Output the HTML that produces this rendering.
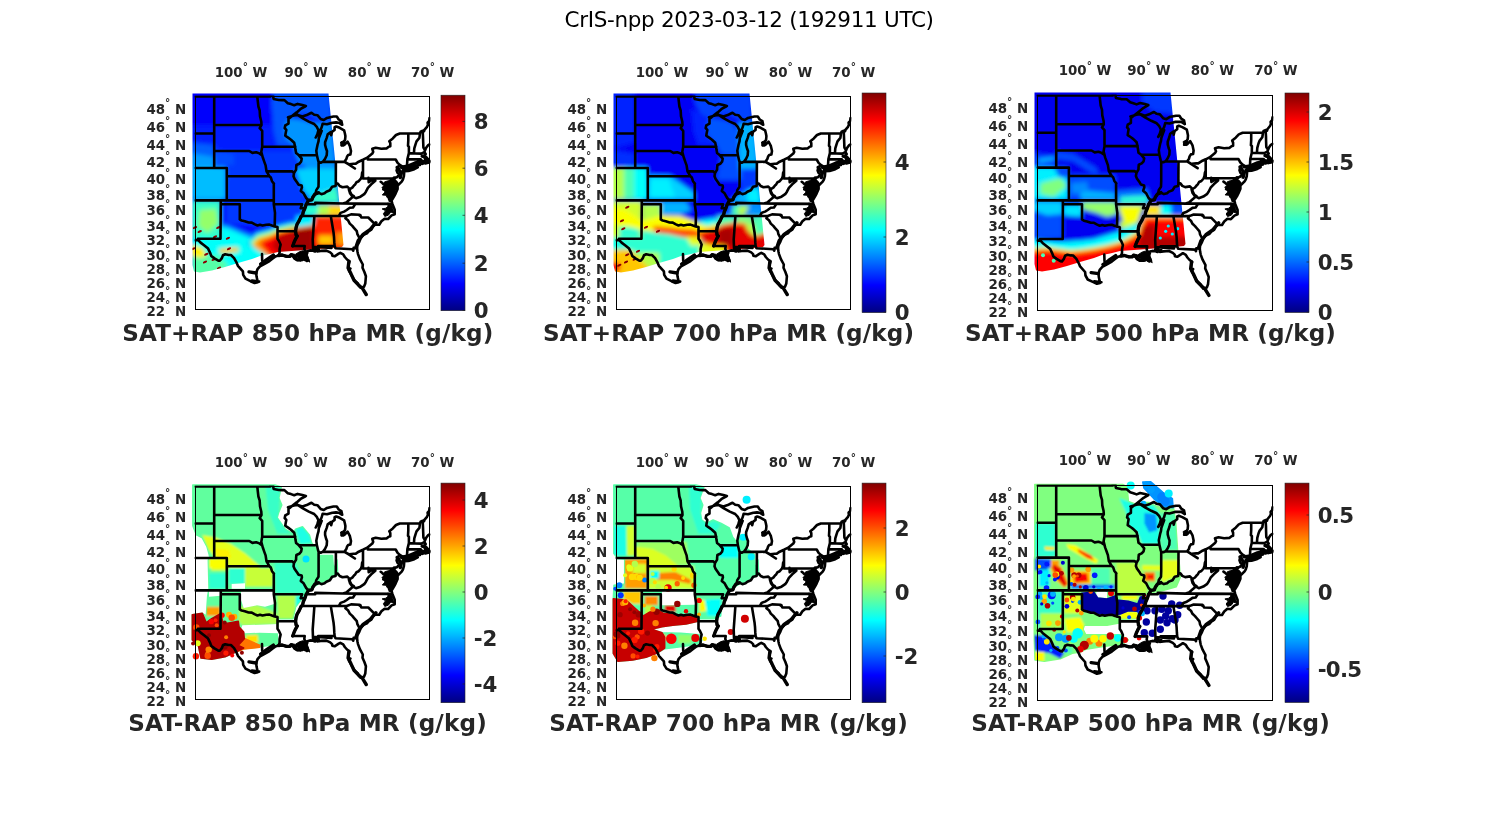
<!DOCTYPE html><html><head><meta charset="utf-8"><title>CrIS-npp</title><style>html,body{margin:0;padding:0;background:#fff}svg{display:block}text{font-family:"DejaVu Sans","Liberation Sans",sans-serif}.b{font-weight:bold;fill:#262626}</style></head><body>
<svg width="1500" height="825" viewBox="0 0 1500 825">
<rect width="1500" height="825" fill="#fff"/>
<linearGradient id="jet" x1="0" y1="0" x2="0" y2="1"><stop offset="0.000" stop-color="#800000"/><stop offset="0.031" stop-color="#9f0000"/><stop offset="0.062" stop-color="#bf0000"/><stop offset="0.094" stop-color="#df0000"/><stop offset="0.125" stop-color="#ff0000"/><stop offset="0.156" stop-color="#ff2000"/><stop offset="0.188" stop-color="#ff4000"/><stop offset="0.219" stop-color="#ff6000"/><stop offset="0.250" stop-color="#ff8000"/><stop offset="0.281" stop-color="#ff9f00"/><stop offset="0.312" stop-color="#ffbf00"/><stop offset="0.344" stop-color="#ffdf00"/><stop offset="0.375" stop-color="#ffff00"/><stop offset="0.406" stop-color="#dfff20"/><stop offset="0.438" stop-color="#bfff40"/><stop offset="0.469" stop-color="#9fff60"/><stop offset="0.500" stop-color="#80ff80"/><stop offset="0.531" stop-color="#60ff9f"/><stop offset="0.562" stop-color="#40ffbf"/><stop offset="0.594" stop-color="#20ffdf"/><stop offset="0.625" stop-color="#00ffff"/><stop offset="0.656" stop-color="#00dfff"/><stop offset="0.688" stop-color="#00bfff"/><stop offset="0.719" stop-color="#009fff"/><stop offset="0.750" stop-color="#0080ff"/><stop offset="0.781" stop-color="#0060ff"/><stop offset="0.812" stop-color="#0040ff"/><stop offset="0.844" stop-color="#0020ff"/><stop offset="0.875" stop-color="#0000ff"/><stop offset="0.906" stop-color="#0000df"/><stop offset="0.938" stop-color="#0000bf"/><stop offset="0.969" stop-color="#00009f"/><stop offset="1.000" stop-color="#000080"/></linearGradient>
<text x="564.5" y="27.2" font-size="21.5" textLength="369.5" lengthAdjust="spacing" fill="#000">CrIS-npp 2023-03-12 (192911 UTC)</text>
<g id="p1">
<filter id="bl0" filterUnits="userSpaceOnUse" x="145" y="46" width="260" height="280"><feGaussianBlur stdDeviation="2.2"/></filter>
<clipPath id="sw0"><path d="M192.5 93.5L328.5 93.5L343.5 245.0L342.0 247.0L332.0 248.0L318.0 249.0L305.0 250.0L292.0 251.0L278.0 252.0L268.0 254.5L260.0 256.0L252.0 259.0L238.0 263.0L225.0 267.0L212.0 270.5L200.0 272.5L194.0 271.5L192.5 265.0Z"/></clipPath>
<g clip-path="url(#sw0)">
<g filter="url(#bl0)">
<rect x="152.5" y="53.5" width="231.0" height="259.0" fill="#0000fc"/>
<path d="M189.6 125.3L297.9 125.3L300.2 180.6L189.6 180.6Z" fill="#001aff"/>
<path d="M214.4 150.7L294.4 150.7L299.1 180.6L214.4 180.6Z" fill="#0038ff"/>
<path d="M273.7 91.9L330.2 91.9L331.9 123.0L317.5 119.6L307.1 113.8L295.6 115.0L286.4 119.6L277.2 123.0L272.6 113.8L271.4 102.3Z" fill="#0057ff"/>
<path d="M272.6 113.8L286.4 119.6L284.1 131.1L286.4 139.1L293.9 145.5L277.2 145.5L273.7 131.1Z" fill="#0057ff"/>
<path d="M288.7 118.4L300.2 119.6L311.7 123.0L331.9 123.0L335.9 165.6L337.1 180.0L299.1 180.0L300.2 165.6L295.6 154.1L293.3 144.9L286.4 139.1L284.1 131.1L285.2 123.0Z" fill="#0094ff"/>
<path d="M190.8 142.6L214.4 144.9L214.4 166.8L190.8 166.8Z" fill="#0061ff"/>
<path d="M190.8 153.0L214.4 157.0L214.4 167.0L190.8 167.0Z" fill="#009eff"/>
<path d="M215.0 150.7L233.4 154.1L234.5 167.4L215.0 167.4Z" fill="#004dff"/>
<path d="M191.7 166.7L225.7 167.3L225.7 199.1L191.7 199.1Z" fill="#00bdff"/>
<path d="M226.3 164.7L305.0 164.7L305.0 223.3L275.7 227.3L226.3 223.3Z" fill="#0038ff"/>
<path d="M295.7 168.7L337.0 168.7L338.3 186.7L318.3 194.0L310.3 198.7L305.0 192.7L299.7 182.0Z" fill="#00d1ff"/>
<path d="M311.0 199.1L318.3 193.7L337.0 187.1L339.7 202.7L308.3 202.7Z" fill="#38ffc7"/>
<path d="M304.3 204.9L319.7 204.9L319.7 215.1L303.0 215.1Z" fill="#2effd1"/>
<path d="M318.3 204.9L330.3 204.9L330.3 215.1L318.3 215.1Z" fill="#b3ff4c"/>
<path d="M329.0 204.9L345.0 204.9L345.0 215.1L329.0 215.1Z" fill="#ffdb00"/>
<path d="M191.7 200.9L220.7 200.9L220.7 238.3L191.7 238.3Z" fill="#38ffc7"/>
<path d="M199.7 210.0L215.7 208.7L218.3 223.3L207.7 232.7L198.3 226.0Z" fill="#94ff6b"/>
<path d="M221.0 223.3L229.0 225.3L238.3 229.3L247.7 233.3L255.7 235.3L265.0 232.0L277.0 228.7L278.3 234.0L259.7 244.7L225.0 239.3Z" fill="#0080ff"/>
<path d="M191.7 237.7L221.3 237.7L221.0 226.7L229.0 228.7L238.3 232.7L247.7 236.7L255.7 238.7L265.0 236.7L270.3 239.3L259.7 250.0L270.3 255.3L270.3 263.3L251.7 266.0L238.3 268.7L225.0 272.7L211.7 276.7L191.7 276.7Z" fill="#05fffa"/>
<path d="M191.7 255.3L218.3 255.3L229.0 266.0L211.7 276.7L191.7 276.7Z" fill="#57ffa8"/>
<path d="M219.0 248.7L238.3 247.3L239.0 251.3L229.0 253.3L219.7 253.3Z" fill="#ffc700"/>
<path d="M190.3 244.7L202.3 247.3L207.0 255.3L201.0 258.0L190.3 255.3Z" fill="#fff000"/>
<path d="M296.3 216.0L313.7 216.0L313.3 225.7L305.0 228.0L296.3 229.3Z" fill="#00f0ff"/>
<path d="M247.0 244.0L255.7 232.7L270.3 228.7L278.3 224.9L289.0 222.3L296.3 221.3L296.3 230.0L278.3 234.0L265.0 239.3L254.3 248.7Z" fill="#00b3ff"/>
<path d="M249.0 243.3L257.0 234.0L270.3 230.7L278.3 227.1L289.0 224.4L296.3 223.3L296.3 230.0L278.3 234.0L265.0 239.3L254.3 247.3Z" fill="#2effd1"/>
<path d="M251.4 243.1L258.1 236.4L270.3 233.1L278.3 229.3L289.0 226.7L295.9 225.7L296.3 230.0L278.3 234.0L265.0 239.3L254.3 247.3Z" fill="#d1ff2e"/>
<path d="M253.7 242.7L259.0 238.0L270.3 235.3L278.3 231.3L289.0 228.7L295.7 227.6L313.0 224.9L315.0 215.6L341.7 215.6L347.7 239.3L347.7 255.3L270.3 258.0L262.3 252.7L255.0 248.0Z" fill="#ff9e00"/>
<path d="M259.7 243.3L265.0 240.0L271.7 237.3L279.0 233.3L289.0 230.3L295.7 229.3L313.0 226.7L316.3 218.0L331.7 217.3L341.3 217.3L347.7 239.3L347.7 255.3L271.7 256.7L265.0 250.0Z" fill="#fa0000"/>
<path d="M296.3 229.7L313.0 227.1L313.3 255.3L295.7 255.3L291.7 244.7L293.7 236.7Z" fill="#9e0000"/>
<path d="M279.0 235.3L295.7 230.0L291.7 255.3L281.0 255.3L271.7 246.0Z" fill="#bd0000"/>
<path d="M315.0 216.7L347.7 216.7L347.7 234.0L315.0 234.0Z" fill="#ff2400"/>
<path d="M318.3 235.3L333.0 235.3L333.0 244.7L318.3 244.7Z" fill="#ffc700"/>
<path d="M336.3 232.7L347.7 232.7L347.7 244.7L336.3 245.3Z" fill="#ff9e00"/>
</g>
<ellipse cx="195.0" cy="227.6" rx="2.3" ry="1.1" fill="#8a0000" transform="rotate(-25 195.0 227.6)"/>
<ellipse cx="199.7" cy="231.6" rx="2.3" ry="1.1" fill="#8a0000" transform="rotate(-25 199.7 231.6)"/>
<ellipse cx="218.3" cy="227.6" rx="2.3" ry="1.1" fill="#8a0000" transform="rotate(-25 218.3 227.6)"/>
<ellipse cx="215.0" cy="236.7" rx="2.3" ry="1.1" fill="#8a0000" transform="rotate(-25 215.0 236.7)"/>
<ellipse cx="227.9" cy="238.3" rx="2.3" ry="1.1" fill="#8a0000" transform="rotate(-25 227.9 238.3)"/>
<ellipse cx="206.3" cy="254.3" rx="2.3" ry="1.1" fill="#8a0000" transform="rotate(-25 206.3 254.3)"/>
<ellipse cx="205.0" cy="262.0" rx="2.3" ry="1.1" fill="#8a0000" transform="rotate(-25 205.0 262.0)"/>
<ellipse cx="213.7" cy="259.6" rx="2.3" ry="1.1" fill="#8a0000" transform="rotate(-25 213.7 259.6)"/>
<ellipse cx="219.0" cy="268.0" rx="2.3" ry="1.1" fill="#8a0000" transform="rotate(-25 219.0 268.0)"/>
<ellipse cx="193.3" cy="248.7" rx="2.3" ry="1.1" fill="#8a0000" transform="rotate(-25 193.3 248.7)"/>
<ellipse cx="229.0" cy="248.7" rx="2.3" ry="1.1" fill="#8a0000" transform="rotate(-25 229.0 248.7)"/>
</g>
<clipPath id="c0"><rect x="194.50" y="95.50" width="236.00" height="215.00"/></clipPath>
<path clip-path="url(#c0)" d="M195.5 96.5L270.4 96.5L270.4 92.6M270.4 92.6L272.7 93.6L273.6 98.9L278.7 100.0L282.1 100.1L284.4 100.1L287.8 103.2L291.0 104.1L294.2 105.3L297.6 103.9L302.4 105.1L305.9 106.0M305.9 106.0L301.1 108.6L296.7 112.4L292.9 115.3L289.7 117.9M214.2 96.5L214.2 168.0M195.5 133.5L214.2 133.5M214.2 125.0L261.5 125.0M214.2 151.0L249.3 151.0L252.4 152.9L256.2 152.2L259.4 153.4L262.2 155.4M195.5 168.0L226.8 168.0M226.8 168.0L226.8 200.4M226.8 176.2L269.4 176.2M195.5 200.4L273.8 200.4M220.8 200.4L220.5 238.7M220.8 204.3L239.8 204.3L239.8 219.4M239.8 219.4L241.7 220.6L244.8 221.3L248.6 222.5L251.8 222.6L254.9 224.4L257.5 225.5L260.0 224.8L262.5 225.5L266.3 224.8L269.5 224.6L272.0 225.5L274.7 226.4M195.5 240.3L198.5 240.3L197.9 238.7L220.4 238.7M198.5 240.3L200.6 242.6L204.4 245.5L208.1 248.6L210.0 252.6L211.3 255.9L212.1 256.6L214.5 258.4L218.3 260.6L219.8 260.8L221.7 258.4L223.0 255.2L225.2 254.2L228.7 255.0L230.9 255.0L234.1 258.1L236.6 262.7L237.9 265.8L242.9 271.3L243.2 274.9L245.5 278.7L250.5 281.2L254.6 283.0L257.8 282.2M257.8 282.2L256.5 276.3L256.2 272.7L257.5 269.2L260.0 266.3L265.1 263.5L269.5 261.0L272.7 258.4L275.2 256.6L278.7 255.5M278.7 255.5L279.6 252.6L279.6 249.0L280.6 244.6L279.0 240.9L277.5 238.7L277.5 227.0L274.7 226.4M274.7 226.4L275.0 212.9L273.8 204.3L273.8 183.6M273.9 183.6L272.0 181.2L270.8 177.5L269.4 176.2L266.5 171.4L266.0 168.0L265.6 165.4L264.4 162.1L262.9 157.8L262.2 155.4L261.3 151.9L262.2 146.7M262.2 146.7L262.2 130.8L259.7 128.1L261.5 125.0L261.3 121.8L260.0 116.3L259.7 110.7L258.4 106.5L257.8 101.3L257.3 96.5M262.2 146.7L295.3 146.7M266.5 171.4L292.1 171.3L294.0 173.1M273.8 204.3L302.1 204.3L300.7 208.2L304.9 208.2M277.5 231.0L295.6 231.2M289.7 117.9L288.5 118.6L288.5 123.6L285.3 125.4L284.7 128.1L286.3 129.9L285.6 133.5L285.3 135.7L288.5 137.9L291.0 139.7L294.2 142.7L295.1 146.7L295.4 149.3L296.1 153.1L298.9 155.3M298.9 155.3L316.9 155.3M298.9 155.3L301.7 158.7L301.1 161.7L299.2 163.8L296.4 165.0L296.1 168.0L296.1 169.6L294.0 173.1M294.0 173.1L293.5 176.2L294.5 178.7L297.3 182.8L298.6 184.8L301.7 185.6L301.9 187.4L300.8 190.9L303.6 193.3L306.2 198.0L308.4 200.4M308.4 200.4L306.8 203.5L306.2 204.3L304.9 208.2L303.3 211.7L302.6 215.0L301.1 216.4L299.2 220.6L297.0 224.4L296.1 227.4L295.6 231.2L296.1 234.9L297.3 236.0L295.4 239.4L294.2 242.0L292.7 246.0M292.7 246.0L304.7 246.0L304.3 249.0L305.5 251.9M278.7 255.5L282.1 255.0L286.6 256.4L289.7 256.3L291.0 254.8L293.5 256.3L294.8 258.4L297.3 259.9L300.5 259.9L302.4 259.5L303.6 258.4L306.8 261.0L308.4 260.2L307.4 257.7L305.5 255.9L306.8 254.1L307.4 252.6L305.5 251.9M305.5 251.9L307.4 251.2L310.0 250.4L313.1 250.8L315.0 251.5L315.7 248.2L316.3 250.4L317.2 251.5L318.8 251.3M313.1 250.8L312.7 239.4L314.4 216.0M318.8 251.2L318.2 246.0L334.6 246.0M334.6 246.0L335.5 248.2L352.3 249.2L353.3 250.7L353.6 247.9L357.1 248.2M334.6 246.0L334.3 242.4L334.0 236.8L333.5 232.2L330.8 216.1M301.1 216.0L346.7 216.0M346.7 216.0L345.4 218.3L348.2 220.6L349.8 223.6L352.3 225.9L353.9 227.8L356.8 231.2L357.4 234.2L359.0 237.2L360.6 238.4M346.7 216.0L351.1 214.4L359.6 214.8L359.6 215.6L360.4 215.2L361.3 217.4L368.3 217.5L375.4 224.7M338.9 216.0L340.6 212.9L344.1 211.6L346.7 210.0L349.8 207.8L353.0 207.5L355.6 203.6M306.2 204.3L315.2 204.3L315.2 202.9L343.0 203.5L355.6 203.6L392.4 203.9M308.5 200.4L311.9 199.8L312.8 197.2L315.0 194.1L318.4 192.7L321.4 194.2L324.5 193.3L326.4 191.7L329.9 190.3L332.1 186.8L335.6 186.0L335.8 183.6L337.8 183.6L339.7 186.0L342.5 187.2L347.3 186.6L349.8 189.1M315.5 194.1L316.3 190.1L318.5 186.8L318.6 181.6L318.6 161.9M335.8 183.6L335.9 162.1M323.1 161.6L335.9 161.9L344.4 161.8M316.9 155.3L318.2 160.8L318.7 162.1L320.7 162.7L323.1 161.6M323.1 161.6L325.1 158.7L326.7 155.3L327.0 151.0L326.1 148.8L325.1 144.9L325.1 142.3L326.7 137.9L327.7 134.4L330.8 132.1L331.2 135.3L332.1 131.7L334.6 129.9L334.6 127.2L336.2 126.5M336.2 126.5L339.7 127.8L344.1 130.4L344.8 133.0L345.4 136.1L345.1 139.7L341.6 145.4L344.4 144.9L347.6 141.7L349.8 145.8L351.0 151.0L350.4 154.4L348.2 154.9L347.0 156.8L346.3 159.1L344.4 161.8M297.6 114.9L302.9 118.4L308.8 121.6L314.2 124.0L316.8 126.9L318.4 130.2L317.6 133.4M297.6 114.9L302.4 116.5L306.7 115.1L309.9 113.5L311.5 112.8L314.2 114.7L317.4 115.2L320.6 118.9L323.8 120.0L327.0 117.9L333.4 116.5L336.8 116.5L338.7 119.5L341.4 121.1L342.2 124.8L338.7 122.7L336.0 122.4L332.3 122.7L327.0 124.3L322.7 123.7L321.6 127.5L320.0 130.7L317.6 133.4M318.2 132.6L315.7 137.5L319.8 131.7L321.7 130.8L318.8 138.4L318.5 141.4L317.6 144.5L316.3 150.7L316.9 155.3M288.0 117.3L290.7 116.5L293.9 115.5L297.6 114.9M344.4 161.8L347.9 163.8L349.2 164.2L353.6 163.8L355.5 163.8L358.7 161.7L363.0 159.7L367.8 157.3L372.3 153.6L373.2 151.9L372.3 148.8L375.7 147.8L381.4 148.7L386.5 148.4L388.4 146.9L390.3 146.2L390.3 143.2L389.3 141.2L392.8 138.4L396.0 135.0L399.8 133.5L420.0 133.4L420.6 131.7L422.7 130.8L424.1 131.2L424.4 129.9L427.0 126.8L427.9 124.9L427.6 122.7L429.2 120.8L429.5 118.1M367.8 157.3L367.8 159.5L395.7 159.5L397.6 162.9L399.8 164.9M363.0 159.7L363.0 178.5M363.0 171.0L362.1 172.9L361.8 176.2L360.9 178.7L358.7 181.2L356.5 182.2L355.2 184.4L354.2 185.2L352.3 187.6L349.8 189.1M363.0 178.5L392.9 178.5M368.5 177.9L368.7 182.2L371.8 180.2L375.3 180.7M375.3 180.7L371.2 184.3L367.9 187.8L365.8 191.9L364.2 194.2L360.5 196.7L356.0 198.2L352.2 196.3L350.0 193.2L348.9 189.6M349.8 189.1L349.8 191.3L351.7 194.9L353.8 196.1L349.2 200.0L346.3 202.4L343.0 203.5M380.7 181.8L382.1 182.8L383.6 184.4L384.9 185.2L384.9 186.8L383.3 189.3L385.2 190.1L387.8 191.3L389.5 192.2L389.0 189.7L388.4 186.8L388.7 184.7L388.4 182.4L390.9 181.2L391.0 179.9L391.9 180.3L390.3 183.6L389.7 186.0L390.3 188.4L391.6 190.9L392.5 192.9L391.9 196.4L391.6 199.2L392.2 199.5L394.1 196.4L395.7 193.3L397.6 188.9L397.6 186.0L395.3 183.6L394.4 180.7L394.4 179.1L395.3 177.9M397.6 188.8L392.9 188.8L392.9 178.5L394.1 177.6L395.3 177.9M392.5 192.9L395.7 192.3M385.2 190.1L390.0 193.3L389.7 195.6L389.7 198.0L389.0 198.8L389.7 200.4L389.7 200.8L391.6 201.0L392.4 203.9L394.7 209.8L394.7 214.2L391.6 215.4L388.1 219.0L384.6 218.7L381.4 221.3L379.2 224.8L375.4 224.7L373.2 225.9L371.3 229.7L368.8 231.2L366.9 233.4L363.7 234.9L361.8 236.8L360.6 238.4L359.0 242.4L357.4 245.3L357.1 248.2L357.4 251.2L358.0 254.1L359.9 259.1L362.8 264.5L362.5 267.8L364.4 272.0L365.9 276.3L365.3 283.5L364.0 286.8L360.6 287.8L358.7 285.4L357.7 283.3L354.9 280.9L353.3 278.4L351.7 275.6L350.1 272.7L348.9 270.6L350.4 268.5L348.4 268.0L348.5 264.9L349.5 261.3L347.0 259.5L344.8 257.0L343.2 254.4L340.3 252.8L338.7 253.7L334.6 256.3L332.3 255.7L332.1 254.1L330.2 252.4L326.4 250.6L320.7 250.9L318.8 251.3M399.8 164.9L397.2 168.0L396.6 170.5L397.6 172.9L399.3 174.6L397.1 177.1L395.3 177.9M399.8 164.9L404.8 168.0L404.0 170.5L402.6 172.1L404.2 172.5L403.9 176.2L402.9 179.5L401.7 181.6L398.2 185.0L396.9 182.8L394.4 180.3M404.0 171.3L408.6 171.0L414.3 169.2L417.7 167.4L415.0 166.7L413.1 168.1L408.6 168.6L405.8 169.2L404.0 171.3M404.8 168.0L404.8 169.2L406.4 168.0M406.4 168.0L405.9 167.1L407.5 166.2L407.0 165.4L407.4 159.1L408.9 153.1L408.9 146.7L408.0 145.8L408.3 140.6L408.3 133.5M406.4 168.0L409.9 166.7L411.2 165.7L414.6 165.7L417.7 165.3L420.0 164.9L420.6 162.5L421.9 163.8L422.4 163.8L423.8 163.3L425.4 162.1L425.4 163.5L429.5 162.3M407.4 159.1L418.1 159.4L420.8 159.4L421.1 160.4L421.9 162.1L422.4 163.8M418.1 159.4L418.1 165.3M408.9 153.1L421.3 153.6L424.3 152.1L425.7 154.0L423.2 156.6L425.1 157.8L425.4 160.0L426.3 161.5L429.5 161.4M413.9 153.3L414.3 148.4L415.6 144.1L416.5 141.4L419.4 137.9L420.0 133.4M424.3 152.1L425.1 150.3L423.4 147.5L423.2 142.3L423.0 137.0L422.7 130.8M425.1 150.3L426.0 148.0L427.9 145.4L429.5 144.5M262.0 254.1L262.2 260.7M252.0 280.6L259.2 281.6M313.6 246.7L331.5 248.0M345.3 162.2L354.9 168.5" fill="none" stroke="#000" stroke-width="2.6" stroke-linejoin="round" stroke-linecap="round"/>
<path clip-path="url(#c0)" d="M375.9 222.7L370.3 229.3L363.1 234.4L358.2 240.5L355.8 247.5M348.9 261.4L348.1 268.0L350.9 273.6L354.0 280.3L359.1 285.6L362.3 288.2L366.2 294.5M273.4 255.1L266.3 259.9L260.7 264.0M249.0 271.9L256.1 273.0M401.3 167.3L407.4 166.3L414.5 163.2L421.6 161.2L427.8 162.2M403.3 170.3L410.4 167.3L416.6 166.3M422.2 156.1L425.7 157.1L429.3 161.2M397.2 167.3L401.3 173.4L400.3 177.5M308.4 200.4L306.8 203.5L306.2 204.3L304.9 208.2L303.3 211.7L302.6 215.0L301.1 216.4L299.2 220.6L297.0 224.4L296.1 227.4L295.6 231.2L296.1 234.9L297.3 236.0L295.4 239.4L294.2 242.0L292.7 246.0M308.5 200.4L311.9 199.8L312.8 197.2L315.0 194.1L318.4 192.7M278.7 255.5L282.1 255.0L286.6 256.4L289.7 256.3L291.0 254.8L293.5 256.3L294.8 258.4L297.3 259.9L300.5 259.9L302.4 259.5" fill="none" stroke="#000" stroke-width="3.4" stroke-linejoin="round" stroke-linecap="round"/>
<path clip-path="url(#c0)" d="M384.3 182.1L387.5 180.9L390.7 180.5L393.9 179.8L397.0 181.3L397.8 185.3L395.8 190.1L394.7 194.0L392.7 197.2L391.5 198.4L387.5 198.0L385.9 195.2L382.3 195.0L385.1 192.0L383.1 188.5L381.9 187.3L384.7 186.1ZM387.4 203.2L391.2 203.8L392.7 208.3L393.3 210.5L394.5 213.3L390.7 212.0L388.5 215.1L384.8 216.4L383.4 213.8L385.6 210.7L382.1 208.9L385.9 208.2L388.1 206.2ZM291.3 253.6L295.3 254.4L299.4 251.8L302.7 250.8L306.7 251.8L307.7 255.8L309.7 262.2L306.7 259.6L304.7 260.9L302.7 258.8L300.2 261.2L298.6 258.3L294.5 256.8ZM340.5 142.0L343.6 140.8L345.6 143.0L343.8 146.1L341.0 145.5Z" fill="#000" stroke="#000" stroke-width="1" stroke-linejoin="round"/>
<rect x="195.50" y="96.50" width="234.00" height="213.00" fill="none" stroke="#000" stroke-width="1"/>
<text class="b" x="241.0" y="76.8" font-size="13.4" text-anchor="middle">100<tspan dy="-6.4" font-size="10.5">°</tspan><tspan dy="6.4"> W</tspan></text>
<text class="b" x="306.2" y="76.8" font-size="13.4" text-anchor="middle">90<tspan dy="-6.4" font-size="10.5">°</tspan><tspan dy="6.4"> W</tspan></text>
<text class="b" x="369.5" y="76.8" font-size="13.4" text-anchor="middle">80<tspan dy="-6.4" font-size="10.5">°</tspan><tspan dy="6.4"> W</tspan></text>
<text class="b" x="432.7" y="76.8" font-size="13.4" text-anchor="middle">70<tspan dy="-6.4" font-size="10.5">°</tspan><tspan dy="6.4"> W</tspan></text>
<text class="b" x="186.2" y="315.7" font-size="13.4" text-anchor="end">22<tspan dy="-7.9" font-size="10.5">°</tspan><tspan dy="7.9"> N</tspan></text>
<text class="b" x="186.2" y="302.1" font-size="13.4" text-anchor="end">24<tspan dy="-7.9" font-size="10.5">°</tspan><tspan dy="7.9"> N</tspan></text>
<text class="b" x="186.2" y="288.3" font-size="13.4" text-anchor="end">26<tspan dy="-7.9" font-size="10.5">°</tspan><tspan dy="7.9"> N</tspan></text>
<text class="b" x="186.2" y="274.3" font-size="13.4" text-anchor="end">28<tspan dy="-7.9" font-size="10.5">°</tspan><tspan dy="7.9"> N</tspan></text>
<text class="b" x="186.2" y="260.0" font-size="13.4" text-anchor="end">30<tspan dy="-7.9" font-size="10.5">°</tspan><tspan dy="7.9"> N</tspan></text>
<text class="b" x="186.2" y="245.4" font-size="13.4" text-anchor="end">32<tspan dy="-7.9" font-size="10.5">°</tspan><tspan dy="7.9"> N</tspan></text>
<text class="b" x="186.2" y="230.5" font-size="13.4" text-anchor="end">34<tspan dy="-7.9" font-size="10.5">°</tspan><tspan dy="7.9"> N</tspan></text>
<text class="b" x="186.2" y="215.3" font-size="13.4" text-anchor="end">36<tspan dy="-7.9" font-size="10.5">°</tspan><tspan dy="7.9"> N</tspan></text>
<text class="b" x="186.2" y="199.6" font-size="13.4" text-anchor="end">38<tspan dy="-7.9" font-size="10.5">°</tspan><tspan dy="7.9"> N</tspan></text>
<text class="b" x="186.2" y="183.5" font-size="13.4" text-anchor="end">40<tspan dy="-7.9" font-size="10.5">°</tspan><tspan dy="7.9"> N</tspan></text>
<text class="b" x="186.2" y="166.9" font-size="13.4" text-anchor="end">42<tspan dy="-7.9" font-size="10.5">°</tspan><tspan dy="7.9"> N</tspan></text>
<text class="b" x="186.2" y="149.9" font-size="13.4" text-anchor="end">44<tspan dy="-7.9" font-size="10.5">°</tspan><tspan dy="7.9"> N</tspan></text>
<text class="b" x="186.2" y="132.2" font-size="13.4" text-anchor="end">46<tspan dy="-7.9" font-size="10.5">°</tspan><tspan dy="7.9"> N</tspan></text>
<text class="b" x="186.2" y="113.8" font-size="13.4" text-anchor="end">48<tspan dy="-7.9" font-size="10.5">°</tspan><tspan dy="7.9"> N</tspan></text>
<rect x="441.0" y="95.2" width="24.0" height="215.5" fill="url(#jet)" stroke="#222" stroke-width="0.6"/>
<path d="M465.0 121.4h-2.5" stroke="#222" stroke-width="0.7"/>
<text class="b" x="473.7" y="129.2" font-size="21.3">8</text>
<path d="M465.0 168.2h-2.5" stroke="#222" stroke-width="0.7"/>
<text class="b" x="473.7" y="176.0" font-size="21.3">6</text>
<path d="M465.0 215.3h-2.5" stroke="#222" stroke-width="0.7"/>
<text class="b" x="473.7" y="223.1" font-size="21.3">4</text>
<path d="M465.0 263.2h-2.5" stroke="#222" stroke-width="0.7"/>
<text class="b" x="473.7" y="271.0" font-size="21.3">2</text>
<path d="M465.0 310.5h-2.5" stroke="#222" stroke-width="0.7"/>
<text class="b" x="473.7" y="318.3" font-size="21.3">0</text>
<text class="b" x="122.2" y="341.0" font-size="23.1" textLength="371" lengthAdjust="spacing">SAT+RAP 850 hPa MR (g/kg)</text>
</g>
<g id="p2">
<filter id="bl1" filterUnits="userSpaceOnUse" x="566" y="46" width="260" height="280"><feGaussianBlur stdDeviation="2.2"/></filter>
<clipPath id="sw1"><path d="M613.5 93.5L749.5 93.5L764.5 245.0L763.0 247.0L753.0 248.0L739.0 249.0L726.0 250.0L713.0 251.0L699.0 252.0L689.0 254.5L681.0 256.0L673.0 259.0L659.0 263.0L646.0 267.0L633.0 270.5L621.0 272.5L615.0 271.5L613.5 265.0Z"/></clipPath>
<g clip-path="url(#sw1)">
<g filter="url(#bl1)">
<rect x="573.5" y="53.5" width="231.0" height="259.0" fill="#0000f5"/>
<path d="M695.9 91.9L751.2 91.9L752.9 123.0L738.5 119.6L728.1 113.8L716.6 115.0L709.7 119.6L700.5 113.8L694.7 102.3Z" fill="#0042ff"/>
<path d="M709.7 118.4L721.2 119.6L732.7 123.0L738.5 133.4L737.3 154.1L721.2 154.1L716.6 144.9L707.4 135.7L706.2 123.0Z" fill="#0057ff"/>
<path d="M738.5 123.0L754.6 123.0L758.1 165.6L759.2 180.0L739.6 180.0L738.5 154.1Z" fill="#00b3ff"/>
<path d="M721.2 155.3L738.5 155.3L738.5 180.0L716.6 180.0Z" fill="#004dff"/>
<path d="M691.3 108.0L707.4 119.6L706.2 135.7L714.3 144.9L698.2 144.9L693.6 131.1Z" fill="#0024ff"/>
<path d="M611.8 149.5L634.8 154.1L634.8 167.0L611.8 167.0Z" fill="#002eff"/>
<path d="M610.6 90.8L634.8 90.8L634.8 142.6L610.6 149.5Z" fill="#0024ff"/>
<path d="M600.0 167.4L628.0 167.4L628.0 199.0L600.0 199.0Z" fill="#b3ff4c"/>
<path d="M624.0 167.4L637.0 167.4L637.0 199.0L624.0 199.0Z" fill="#4dffb3"/>
<path d="M634.0 167.4L647.0 167.6L647.0 199.0L634.0 199.0Z" fill="#05fffa"/>
<path d="M648.7 175.3L670.0 176.0L680.7 183.3L694.0 192.7L694.7 199.1L648.0 199.1Z" fill="#00d1ff"/>
<path d="M650.0 179.3L668.7 179.3L675.3 196.7L650.0 197.3Z" fill="#00f0ff"/>
<path d="M740.7 168.7L758.0 168.7L758.7 184.7L740.7 192.7Z" fill="#0038ff"/>
<path d="M734.0 198.7L739.3 193.7L758.0 187.1L760.7 202.7L729.3 202.7Z" fill="#00b3ff"/>
<path d="M747.3 190.0L758.7 186.7L761.3 202.7L747.3 202.7Z" fill="#00f0ff"/>
<path d="M610.0 200.9L641.7 200.9L641.7 238.3L610.0 238.3Z" fill="#d1ff2e"/>
<path d="M619.3 227.3L639.3 226.0L640.0 236.7L619.3 237.3Z" fill="#2effd1"/>
<path d="M642.3 204.0L660.9 204.0L661.3 220.7L642.3 223.3Z" fill="#b3ff4c"/>
<path d="M660.9 202.0L686.0 202.0L691.3 210.0L680.7 214.0L661.3 214.0Z" fill="#00b3ff"/>
<path d="M610.0 207.3L626.0 210.0L642.0 220.7L661.3 215.3L680.7 216.0L695.3 221.3L699.3 223.3L707.3 226.0L716.7 223.3L718.0 228.7L707.3 230.7L699.3 232.7L700.0 236.7L691.3 239.3L680.7 236.7L668.7 234.0L656.7 232.7L642.0 230.0L626.0 226.0L610.0 223.3Z" fill="#faff05"/>
<path d="M652.7 226.0L668.7 227.3L680.7 228.7L691.3 228.9L699.3 231.1L700.7 237.3L691.3 238.3L680.7 236.4L668.7 234.7L655.3 232.7Z" fill="#ff4c00"/>
<path d="M698.0 220.7L716.7 218.0L717.3 223.3L707.3 226.0L699.3 223.3Z" fill="#05fffa"/>
<path d="M717.3 216.0L734.7 216.0L734.3 223.3L722.0 225.3L717.3 228.7Z" fill="#4dffb3"/>
<path d="M725.3 204.9L734.0 204.9L732.7 215.1L724.0 215.1Z" fill="#004dff"/>
<path d="M733.3 204.9L750.0 204.9L744.7 215.1L731.3 215.1Z" fill="#4dffb3"/>
<path d="M739.3 206.0L748.7 206.0L744.7 214.7L738.0 214.7Z" fill="#b3ff4c"/>
<path d="M750.0 204.9L763.3 204.9L764.0 215.1L746.0 215.1Z" fill="#0094ff"/>
<path d="M736.0 215.6L752.7 215.6L752.7 223.3L736.0 223.3Z" fill="#80ff80"/>
<path d="M753.3 215.6L766.0 215.6L767.3 232.7L756.7 236.7L752.7 234.0L747.3 228.7L746.0 223.3L753.3 223.3Z" fill="#4dffb3"/>
<path d="M610.0 237.3L642.0 237.3L642.0 230.0L656.7 232.7L668.7 234.0L680.7 236.7L691.3 239.3L699.3 236.7L702.0 244.7L699.3 253.3L699.3 266.0L672.7 268.7L646.0 274.0L610.0 276.7Z" fill="#2effd1"/>
<path d="M686.0 236.7L699.3 236.7L701.3 244.7L691.3 246.0Z" fill="#e5ff1a"/>
<path d="M699.3 242.7L712.7 245.3L724.7 245.3L726.0 258.0L699.3 258.0Z" fill="#e5ff1a"/>
<path d="M698.0 231.3L707.3 228.9L716.7 227.6L722.0 224.3L734.0 222.3L745.3 223.1L748.4 229.3L753.3 234.3L756.7 235.6L768.0 231.3L768.7 258.0L726.0 258.0L724.7 246.3L712.7 246.3L704.0 243.3L698.7 237.3Z" fill="#ff9e00"/>
<path d="M700.0 232.7L707.3 230.7L716.7 229.3L722.3 226.0L734.0 224.0L744.4 224.7L747.1 230.3L752.7 236.0L756.7 237.3L768.0 233.3L768.7 258.0L726.7 258.0L725.3 244.9L712.7 244.9L704.9 242.3L700.4 236.7Z" fill="#e50000"/>
<path d="M745.3 223.3L753.7 223.3L756.0 235.1L752.4 235.3L747.6 230.0Z" fill="#b3ff4c"/>
<path d="M718.0 230.3L732.7 227.6L734.0 246.3L719.3 244.7Z" fill="#a80000"/>
<path d="M610.0 250.0L626.0 248.7L639.3 254.0L650.0 262.0L651.3 276.7L610.0 276.7Z" fill="#ffc700"/>
<path d="M610.0 239.3L626.0 242.0L630.0 248.7L610.0 250.0Z" fill="#1affe5"/>
<path d="M632.7 252.7L659.3 252.7L659.3 266.0L650.0 268.7Z" fill="#b3ff4c"/>
<path d="M610.0 262.0L620.7 263.3L619.3 271.3L610.0 274.0Z" fill="#fa0000"/>
</g>
<ellipse cx="638.0" cy="251.3" rx="2.3" ry="1.1" fill="#8a0000" transform="rotate(-25 638.0 251.3)"/>
<ellipse cx="626.0" cy="262.0" rx="2.3" ry="1.1" fill="#8a0000" transform="rotate(-25 626.0 262.0)"/>
<ellipse cx="634.7" cy="259.3" rx="2.3" ry="1.1" fill="#8a0000" transform="rotate(-25 634.7 259.3)"/>
<ellipse cx="619.3" cy="265.3" rx="2.3" ry="1.1" fill="#8a0000" transform="rotate(-25 619.3 265.3)"/>
<ellipse cx="627.3" cy="254.7" rx="2.3" ry="1.1" fill="#8a0000" transform="rotate(-25 627.3 254.7)"/>
<ellipse cx="623.3" cy="228.7" rx="2.3" ry="1.1" fill="#8a0000" transform="rotate(-25 623.3 228.7)"/>
<ellipse cx="627.3" cy="207.3" rx="2.3" ry="1.1" fill="#8a0000" transform="rotate(-25 627.3 207.3)"/>
<ellipse cx="622.0" cy="220.7" rx="2.3" ry="1.1" fill="#8a0000" transform="rotate(-25 622.0 220.7)"/>
<ellipse cx="646.0" cy="227.3" rx="2.3" ry="1.1" fill="#8a0000" transform="rotate(-25 646.0 227.3)"/>
<ellipse cx="658.0" cy="231.3" rx="2.3" ry="1.1" fill="#8a0000" transform="rotate(-25 658.0 231.3)"/>
</g>
<clipPath id="c1"><rect x="615.50" y="95.50" width="236.00" height="215.00"/></clipPath>
<path clip-path="url(#c1)" d="M616.5 96.5L691.4 96.5L691.4 92.6M691.4 92.6L693.7 93.6L694.6 98.9L699.7 100.0L703.1 100.1L705.4 100.1L708.8 103.2L712.0 104.1L715.2 105.3L718.6 103.9L723.4 105.1L726.9 106.0M726.9 106.0L722.1 108.6L717.7 112.4L713.9 115.3L710.7 117.9M635.2 96.5L635.2 168.0M616.5 133.5L635.2 133.5M635.2 125.0L682.5 125.0M635.2 151.0L670.3 151.0L673.4 152.9L677.2 152.2L680.4 153.4L683.2 155.4M616.5 168.0L647.8 168.0M647.8 168.0L647.8 200.4M647.8 176.2L690.4 176.2M616.5 200.4L694.8 200.4M641.8 200.4L641.5 238.7M641.8 204.3L660.8 204.3L660.8 219.4M660.8 219.4L662.7 220.6L665.8 221.3L669.6 222.5L672.8 222.6L675.9 224.4L678.5 225.5L681.0 224.8L683.5 225.5L687.3 224.8L690.5 224.6L693.0 225.5L695.7 226.4M616.5 240.3L619.5 240.3L618.9 238.7L641.4 238.7M619.5 240.3L621.6 242.6L625.4 245.5L629.1 248.6L631.0 252.6L632.3 255.9L633.1 256.6L635.5 258.4L639.3 260.6L640.8 260.8L642.7 258.4L644.0 255.2L646.2 254.2L649.7 255.0L651.9 255.0L655.1 258.1L657.6 262.7L658.9 265.8L663.9 271.3L664.2 274.9L666.5 278.7L671.5 281.2L675.6 283.0L678.8 282.2M678.8 282.2L677.5 276.3L677.2 272.7L678.5 269.2L681.0 266.3L686.1 263.5L690.5 261.0L693.7 258.4L696.2 256.6L699.7 255.5M699.7 255.5L700.6 252.6L700.6 249.0L701.6 244.6L700.0 240.9L698.5 238.7L698.5 227.0L695.7 226.4M695.7 226.4L696.0 212.9L694.8 204.3L694.8 183.6M694.9 183.6L693.0 181.2L691.8 177.5L690.4 176.2L687.5 171.4L687.0 168.0L686.6 165.4L685.4 162.1L683.9 157.8L683.2 155.4L682.3 151.9L683.2 146.7M683.2 146.7L683.2 130.8L680.7 128.1L682.5 125.0L682.3 121.8L681.0 116.3L680.7 110.7L679.4 106.5L678.8 101.3L678.3 96.5M683.2 146.7L716.3 146.7M687.5 171.4L713.1 171.3L715.0 173.1M694.8 204.3L723.1 204.3L721.7 208.2L725.9 208.2M698.5 231.0L716.6 231.2M710.7 117.9L709.5 118.6L709.5 123.6L706.3 125.4L705.7 128.1L707.3 129.9L706.6 133.5L706.3 135.7L709.5 137.9L712.0 139.7L715.2 142.7L716.1 146.7L716.4 149.3L717.1 153.1L719.9 155.3M719.9 155.3L737.9 155.3M719.9 155.3L722.7 158.7L722.1 161.7L720.2 163.8L717.4 165.0L717.1 168.0L717.1 169.6L715.0 173.1M715.0 173.1L714.5 176.2L715.5 178.7L718.3 182.8L719.6 184.8L722.7 185.6L722.9 187.4L721.8 190.9L724.6 193.3L727.2 198.0L729.4 200.4M729.4 200.4L727.8 203.5L727.2 204.3L725.9 208.2L724.3 211.7L723.6 215.0L722.1 216.4L720.2 220.6L718.0 224.4L717.1 227.4L716.6 231.2L717.1 234.9L718.3 236.0L716.4 239.4L715.2 242.0L713.7 246.0M713.7 246.0L725.7 246.0L725.3 249.0L726.5 251.9M699.7 255.5L703.1 255.0L707.6 256.4L710.7 256.3L712.0 254.8L714.5 256.3L715.8 258.4L718.3 259.9L721.5 259.9L723.4 259.5L724.6 258.4L727.8 261.0L729.4 260.2L728.4 257.7L726.5 255.9L727.8 254.1L728.4 252.6L726.5 251.9M726.5 251.9L728.4 251.2L731.0 250.4L734.1 250.8L736.0 251.5L736.7 248.2L737.3 250.4L738.2 251.5L739.8 251.3M734.1 250.8L733.7 239.4L735.4 216.0M739.8 251.2L739.2 246.0L755.6 246.0M755.6 246.0L756.5 248.2L773.3 249.2L774.3 250.7L774.6 247.9L778.1 248.2M755.6 246.0L755.3 242.4L755.0 236.8L754.5 232.2L751.8 216.1M722.1 216.0L767.7 216.0M767.7 216.0L766.4 218.3L769.2 220.6L770.8 223.6L773.3 225.9L774.9 227.8L777.8 231.2L778.4 234.2L780.0 237.2L781.6 238.4M767.7 216.0L772.1 214.4L780.6 214.8L780.6 215.6L781.4 215.2L782.3 217.4L789.3 217.5L796.4 224.7M759.9 216.0L761.6 212.9L765.1 211.6L767.7 210.0L770.8 207.8L774.0 207.5L776.6 203.6M727.2 204.3L736.2 204.3L736.2 202.9L764.0 203.5L776.6 203.6L813.4 203.9M729.5 200.4L732.9 199.8L733.8 197.2L736.0 194.1L739.4 192.7L742.4 194.2L745.5 193.3L747.4 191.7L750.9 190.3L753.1 186.8L756.6 186.0L756.8 183.6L758.8 183.6L760.7 186.0L763.5 187.2L768.3 186.6L770.8 189.1M736.5 194.1L737.3 190.1L739.5 186.8L739.6 181.6L739.6 161.9M756.8 183.6L756.9 162.1M744.1 161.6L756.9 161.9L765.4 161.8M737.9 155.3L739.2 160.8L739.7 162.1L741.7 162.7L744.1 161.6M744.1 161.6L746.1 158.7L747.7 155.3L748.0 151.0L747.1 148.8L746.1 144.9L746.1 142.3L747.7 137.9L748.7 134.4L751.8 132.1L752.2 135.3L753.1 131.7L755.6 129.9L755.6 127.2L757.2 126.5M757.2 126.5L760.7 127.8L765.1 130.4L765.8 133.0L766.4 136.1L766.1 139.7L762.6 145.4L765.4 144.9L768.6 141.7L770.8 145.8L772.0 151.0L771.4 154.4L769.2 154.9L768.0 156.8L767.3 159.1L765.4 161.8M718.6 114.9L723.9 118.4L729.8 121.6L735.2 124.0L737.8 126.9L739.4 130.2L738.6 133.4M718.6 114.9L723.4 116.5L727.7 115.1L730.9 113.5L732.5 112.8L735.2 114.7L738.4 115.2L741.6 118.9L744.8 120.0L748.0 117.9L754.4 116.5L757.8 116.5L759.7 119.5L762.4 121.1L763.2 124.8L759.7 122.7L757.0 122.4L753.3 122.7L748.0 124.3L743.7 123.7L742.6 127.5L741.0 130.7L738.6 133.4M739.2 132.6L736.7 137.5L740.8 131.7L742.7 130.8L739.8 138.4L739.5 141.4L738.6 144.5L737.3 150.7L737.9 155.3M709.0 117.3L711.7 116.5L714.9 115.5L718.6 114.9M765.4 161.8L768.9 163.8L770.2 164.2L774.6 163.8L776.5 163.8L779.7 161.7L784.0 159.7L788.8 157.3L793.3 153.6L794.2 151.9L793.3 148.8L796.7 147.8L802.4 148.7L807.5 148.4L809.4 146.9L811.3 146.2L811.3 143.2L810.3 141.2L813.8 138.4L817.0 135.0L820.8 133.5L841.0 133.4L841.6 131.7L843.7 130.8L845.1 131.2L845.4 129.9L848.0 126.8L848.9 124.9L848.6 122.7L850.2 120.8L850.5 118.1M788.8 157.3L788.8 159.5L816.7 159.5L818.6 162.9L820.8 164.9M784.0 159.7L784.0 178.5M784.0 171.0L783.1 172.9L782.8 176.2L781.9 178.7L779.7 181.2L777.5 182.2L776.2 184.4L775.2 185.2L773.3 187.6L770.8 189.1M784.0 178.5L813.9 178.5M789.5 177.9L789.7 182.2L792.8 180.2L796.3 180.7M796.3 180.7L792.2 184.3L788.9 187.8L786.8 191.9L785.2 194.2L781.5 196.7L777.0 198.2L773.2 196.3L771.0 193.2L769.9 189.6M770.8 189.1L770.8 191.3L772.7 194.9L774.8 196.1L770.2 200.0L767.3 202.4L764.0 203.5M801.7 181.8L803.1 182.8L804.6 184.4L805.9 185.2L805.9 186.8L804.3 189.3L806.2 190.1L808.8 191.3L810.5 192.2L810.0 189.7L809.4 186.8L809.7 184.7L809.4 182.4L811.9 181.2L812.0 179.9L812.9 180.3L811.3 183.6L810.7 186.0L811.3 188.4L812.6 190.9L813.5 192.9L812.9 196.4L812.6 199.2L813.2 199.5L815.1 196.4L816.7 193.3L818.6 188.9L818.6 186.0L816.3 183.6L815.4 180.7L815.4 179.1L816.3 177.9M818.6 188.8L813.9 188.8L813.9 178.5L815.1 177.6L816.3 177.9M813.5 192.9L816.7 192.3M806.2 190.1L811.0 193.3L810.7 195.6L810.7 198.0L810.0 198.8L810.7 200.4L810.7 200.8L812.6 201.0L813.4 203.9L815.7 209.8L815.7 214.2L812.6 215.4L809.1 219.0L805.6 218.7L802.4 221.3L800.2 224.8L796.4 224.7L794.2 225.9L792.3 229.7L789.8 231.2L787.9 233.4L784.7 234.9L782.8 236.8L781.6 238.4L780.0 242.4L778.4 245.3L778.1 248.2L778.4 251.2L779.0 254.1L780.9 259.1L783.8 264.5L783.5 267.8L785.4 272.0L786.9 276.3L786.3 283.5L785.0 286.8L781.6 287.8L779.7 285.4L778.7 283.3L775.9 280.9L774.3 278.4L772.7 275.6L771.1 272.7L769.9 270.6L771.4 268.5L769.4 268.0L769.5 264.9L770.5 261.3L768.0 259.5L765.8 257.0L764.2 254.4L761.3 252.8L759.7 253.7L755.6 256.3L753.3 255.7L753.1 254.1L751.2 252.4L747.4 250.6L741.7 250.9L739.8 251.3M820.8 164.9L818.2 168.0L817.6 170.5L818.6 172.9L820.3 174.6L818.1 177.1L816.3 177.9M820.8 164.9L825.8 168.0L825.0 170.5L823.6 172.1L825.2 172.5L824.9 176.2L823.9 179.5L822.7 181.6L819.2 185.0L817.9 182.8L815.4 180.3M825.0 171.3L829.6 171.0L835.3 169.2L838.7 167.4L836.0 166.7L834.1 168.1L829.6 168.6L826.8 169.2L825.0 171.3M825.8 168.0L825.8 169.2L827.4 168.0M827.4 168.0L826.9 167.1L828.5 166.2L828.0 165.4L828.4 159.1L829.9 153.1L829.9 146.7L829.0 145.8L829.3 140.6L829.3 133.5M827.4 168.0L830.9 166.7L832.2 165.7L835.6 165.7L838.7 165.3L841.0 164.9L841.6 162.5L842.9 163.8L843.4 163.8L844.8 163.3L846.4 162.1L846.4 163.5L850.5 162.3M828.4 159.1L839.1 159.4L841.8 159.4L842.1 160.4L842.9 162.1L843.4 163.8M839.1 159.4L839.1 165.3M829.9 153.1L842.3 153.6L845.3 152.1L846.7 154.0L844.2 156.6L846.1 157.8L846.4 160.0L847.3 161.5L850.5 161.4M834.9 153.3L835.3 148.4L836.6 144.1L837.5 141.4L840.4 137.9L841.0 133.4M845.3 152.1L846.1 150.3L844.4 147.5L844.2 142.3L844.0 137.0L843.7 130.8M846.1 150.3L847.0 148.0L848.9 145.4L850.5 144.5M683.0 254.1L683.2 260.7M673.0 280.6L680.2 281.6M734.6 246.7L752.5 248.0M766.3 162.2L775.9 168.5" fill="none" stroke="#000" stroke-width="2.6" stroke-linejoin="round" stroke-linecap="round"/>
<path clip-path="url(#c1)" d="M796.9 222.7L791.3 229.3L784.1 234.4L779.2 240.5L776.8 247.5M769.9 261.4L769.1 268.0L771.9 273.6L775.0 280.3L780.1 285.6L783.3 288.2L787.2 294.5M694.4 255.1L687.3 259.9L681.7 264.0M670.0 271.9L677.1 273.0M822.3 167.3L828.4 166.3L835.5 163.2L842.6 161.2L848.8 162.2M824.3 170.3L831.4 167.3L837.6 166.3M843.2 156.1L846.7 157.1L850.3 161.2M818.2 167.3L822.3 173.4L821.3 177.5M729.4 200.4L727.8 203.5L727.2 204.3L725.9 208.2L724.3 211.7L723.6 215.0L722.1 216.4L720.2 220.6L718.0 224.4L717.1 227.4L716.6 231.2L717.1 234.9L718.3 236.0L716.4 239.4L715.2 242.0L713.7 246.0M729.5 200.4L732.9 199.8L733.8 197.2L736.0 194.1L739.4 192.7M699.7 255.5L703.1 255.0L707.6 256.4L710.7 256.3L712.0 254.8L714.5 256.3L715.8 258.4L718.3 259.9L721.5 259.9L723.4 259.5" fill="none" stroke="#000" stroke-width="3.4" stroke-linejoin="round" stroke-linecap="round"/>
<path clip-path="url(#c1)" d="M805.3 182.1L808.5 180.9L811.7 180.5L814.9 179.8L818.0 181.3L818.8 185.3L816.8 190.1L815.7 194.0L813.7 197.2L812.5 198.4L808.5 198.0L806.9 195.2L803.3 195.0L806.1 192.0L804.1 188.5L802.9 187.3L805.7 186.1ZM808.4 203.2L812.2 203.8L813.7 208.3L814.3 210.5L815.5 213.3L811.7 212.0L809.5 215.1L805.8 216.4L804.4 213.8L806.6 210.7L803.1 208.9L806.9 208.2L809.1 206.2ZM712.3 253.6L716.3 254.4L720.4 251.8L723.7 250.8L727.7 251.8L728.7 255.8L730.7 262.2L727.7 259.6L725.7 260.9L723.7 258.8L721.2 261.2L719.6 258.3L715.5 256.8ZM761.5 142.0L764.6 140.8L766.6 143.0L764.8 146.1L762.0 145.5Z" fill="#000" stroke="#000" stroke-width="1" stroke-linejoin="round"/>
<rect x="616.50" y="96.50" width="234.00" height="213.00" fill="none" stroke="#000" stroke-width="1"/>
<text class="b" x="662.0" y="76.8" font-size="13.4" text-anchor="middle">100<tspan dy="-6.4" font-size="10.5">°</tspan><tspan dy="6.4"> W</tspan></text>
<text class="b" x="727.2" y="76.8" font-size="13.4" text-anchor="middle">90<tspan dy="-6.4" font-size="10.5">°</tspan><tspan dy="6.4"> W</tspan></text>
<text class="b" x="790.5" y="76.8" font-size="13.4" text-anchor="middle">80<tspan dy="-6.4" font-size="10.5">°</tspan><tspan dy="6.4"> W</tspan></text>
<text class="b" x="853.7" y="76.8" font-size="13.4" text-anchor="middle">70<tspan dy="-6.4" font-size="10.5">°</tspan><tspan dy="6.4"> W</tspan></text>
<text class="b" x="607.2" y="315.7" font-size="13.4" text-anchor="end">22<tspan dy="-7.9" font-size="10.5">°</tspan><tspan dy="7.9"> N</tspan></text>
<text class="b" x="607.2" y="302.1" font-size="13.4" text-anchor="end">24<tspan dy="-7.9" font-size="10.5">°</tspan><tspan dy="7.9"> N</tspan></text>
<text class="b" x="607.2" y="288.3" font-size="13.4" text-anchor="end">26<tspan dy="-7.9" font-size="10.5">°</tspan><tspan dy="7.9"> N</tspan></text>
<text class="b" x="607.2" y="274.3" font-size="13.4" text-anchor="end">28<tspan dy="-7.9" font-size="10.5">°</tspan><tspan dy="7.9"> N</tspan></text>
<text class="b" x="607.2" y="260.0" font-size="13.4" text-anchor="end">30<tspan dy="-7.9" font-size="10.5">°</tspan><tspan dy="7.9"> N</tspan></text>
<text class="b" x="607.2" y="245.4" font-size="13.4" text-anchor="end">32<tspan dy="-7.9" font-size="10.5">°</tspan><tspan dy="7.9"> N</tspan></text>
<text class="b" x="607.2" y="230.5" font-size="13.4" text-anchor="end">34<tspan dy="-7.9" font-size="10.5">°</tspan><tspan dy="7.9"> N</tspan></text>
<text class="b" x="607.2" y="215.3" font-size="13.4" text-anchor="end">36<tspan dy="-7.9" font-size="10.5">°</tspan><tspan dy="7.9"> N</tspan></text>
<text class="b" x="607.2" y="199.6" font-size="13.4" text-anchor="end">38<tspan dy="-7.9" font-size="10.5">°</tspan><tspan dy="7.9"> N</tspan></text>
<text class="b" x="607.2" y="183.5" font-size="13.4" text-anchor="end">40<tspan dy="-7.9" font-size="10.5">°</tspan><tspan dy="7.9"> N</tspan></text>
<text class="b" x="607.2" y="166.9" font-size="13.4" text-anchor="end">42<tspan dy="-7.9" font-size="10.5">°</tspan><tspan dy="7.9"> N</tspan></text>
<text class="b" x="607.2" y="149.9" font-size="13.4" text-anchor="end">44<tspan dy="-7.9" font-size="10.5">°</tspan><tspan dy="7.9"> N</tspan></text>
<text class="b" x="607.2" y="132.2" font-size="13.4" text-anchor="end">46<tspan dy="-7.9" font-size="10.5">°</tspan><tspan dy="7.9"> N</tspan></text>
<text class="b" x="607.2" y="113.8" font-size="13.4" text-anchor="end">48<tspan dy="-7.9" font-size="10.5">°</tspan><tspan dy="7.9"> N</tspan></text>
<rect x="862.1" y="93.0" width="23.9" height="219.6" fill="url(#jet)" stroke="#222" stroke-width="0.6"/>
<path d="M886.0 162.0h-2.5" stroke="#222" stroke-width="0.7"/>
<text class="b" x="894.7" y="169.8" font-size="21.3">4</text>
<path d="M886.0 237.0h-2.5" stroke="#222" stroke-width="0.7"/>
<text class="b" x="894.7" y="244.8" font-size="21.3">2</text>
<path d="M886.0 312.0h-2.5" stroke="#222" stroke-width="0.7"/>
<text class="b" x="894.7" y="319.8" font-size="21.3">0</text>
<text class="b" x="543.0" y="341.0" font-size="23.1" textLength="371" lengthAdjust="spacing">SAT+RAP 700 hPa MR (g/kg)</text>
</g>
<g id="p3">
<filter id="bl2" filterUnits="userSpaceOnUse" x="987" y="45" width="260" height="280"><feGaussianBlur stdDeviation="2.2"/></filter>
<clipPath id="sw2"><path d="M1034.5 92.5L1170.5 92.5L1185.5 244.0L1184.0 246.0L1174.0 247.0L1160.0 248.0L1147.0 249.0L1134.0 250.0L1120.0 251.0L1110.0 253.5L1102.0 255.0L1094.0 258.0L1080.0 262.0L1067.0 266.0L1054.0 269.5L1042.0 271.5L1036.0 270.5L1034.5 264.0Z"/></clipPath>
<g clip-path="url(#sw2)">
<g filter="url(#bl2)">
<rect x="994.5" y="52.5" width="231.0" height="259.0" fill="#0000f0"/>
<path d="M1142.2 90.8L1173.3 90.8L1174.5 113.8L1153.7 111.5L1142.2 102.3Z" fill="#0038ff"/>
<path d="M1055.8 151.8L1073.1 154.1L1096.1 167.9L1098.4 173.7L1091.5 172.6L1073.1 161.0L1055.8 158.7Z" fill="#004dff"/>
<path d="M1031.6 151.8L1055.8 156.4L1055.8 167.0L1031.6 167.0Z" fill="#0038ff"/>
<path d="M1038.5 158.7L1054.6 156.4L1054.6 159.9L1038.5 163.3Z" fill="#00b3ff"/>
<path d="M1032.3 167.1L1067.7 167.6L1067.7 199.1L1032.3 199.1Z" fill="#00f0ff"/>
<path d="M1040.3 183.3L1060.3 178.0L1067.0 186.0L1053.7 196.7L1040.3 194.0Z" fill="#80ff80"/>
<path d="M1053.7 167.6L1067.7 167.6L1067.7 178.0L1059.0 176.7Z" fill="#004dff"/>
<path d="M1069.7 175.3L1115.0 175.3L1115.7 199.1L1069.0 199.1Z" fill="#004dff"/>
<path d="M1080.3 190.0L1115.0 193.3L1115.7 199.1L1080.3 199.1Z" fill="#00b3ff"/>
<path d="M1071.0 183.3L1087.0 182.0L1088.3 191.3L1072.3 194.0Z" fill="#008aff"/>
<path d="M1116.3 191.3L1147.0 188.7L1149.7 202.7L1117.7 204.0Z" fill="#0075ff"/>
<path d="M1120.3 196.7L1147.0 195.3L1148.3 202.7L1120.3 203.3Z" fill="#2effd1"/>
<path d="M1032.3 200.9L1062.7 200.9L1062.7 238.3L1032.3 238.3Z" fill="#004dff"/>
<path d="M1032.3 202.0L1062.3 202.0L1062.3 214.0L1047.0 215.3L1032.3 210.0Z" fill="#00d1ff"/>
<path d="M1063.7 204.7L1081.7 204.7L1081.7 216.7L1063.7 215.3Z" fill="#00e5ff"/>
<path d="M1082.3 202.0L1116.3 202.0L1117.0 214.0L1107.0 216.7L1096.3 212.7L1085.7 210.0L1082.3 208.7Z" fill="#94ff6b"/>
<path d="M1117.7 204.9L1144.3 204.9L1140.3 215.3L1137.7 223.3L1128.3 227.3L1120.3 228.7L1119.0 223.3L1123.0 220.7L1120.3 214.0Z" fill="#c7ff38"/>
<path d="M1120.3 207.3L1140.3 207.3L1137.7 220.7L1125.7 223.3Z" fill="#faff05"/>
<path d="M1146.3 204.9L1160.3 204.9L1160.3 215.1L1145.0 215.1Z" fill="#ffe500"/>
<path d="M1160.3 204.9L1171.0 204.9L1171.0 215.1L1160.3 215.1Z" fill="#05fffa"/>
<path d="M1171.0 204.9L1184.3 204.9L1185.0 215.1L1171.0 215.1Z" fill="#004dff"/>
<path d="M1031.0 239.3L1047.0 240.7L1060.3 242.0L1080.3 240.7L1093.7 239.3L1107.0 235.3L1120.3 231.3L1123.0 228.7L1137.7 223.3L1139.0 232.7L1128.3 239.3L1120.3 244.0L1107.0 247.3L1093.7 250.0L1080.3 252.0L1071.0 252.7L1060.3 251.3L1047.0 250.0L1031.0 251.3Z" fill="#00faff"/>
<path d="M1031.0 248.0L1047.0 246.7L1060.3 248.7L1071.0 250.0L1080.3 249.3L1093.7 247.3L1107.0 244.7L1120.3 241.3L1128.3 236.7L1137.7 230.7L1140.3 223.3L1144.3 216.0L1191.0 216.0L1191.0 276.7L1031.0 276.7Z" fill="#faff05"/>
<path d="M1031.0 250.0L1047.0 248.7L1060.3 250.4L1071.0 251.9L1080.3 251.1L1093.7 249.2L1107.0 246.4L1120.3 243.1L1129.0 238.7L1138.7 232.7L1141.7 224.7L1145.0 217.3L1191.0 217.3L1191.0 276.7L1031.0 276.7Z" fill="#ff8000"/>
<path d="M1031.0 252.7L1047.0 251.1L1060.3 252.7L1071.0 254.0L1080.3 253.2L1093.7 251.3L1107.0 248.7L1120.3 245.3L1129.7 240.7L1139.7 234.7L1142.7 226.0L1146.3 219.1L1191.0 219.1L1191.0 276.7L1031.0 276.7Z" fill="#ff0500"/>
<path d="M1139.0 236.7L1191.0 236.7L1191.0 263.3L1137.7 263.3Z" fill="#b30000"/>
<path d="M1143.0 227.3L1155.0 223.3L1155.0 260.7L1139.0 262.0Z" fill="#b30000"/>
</g>
<circle cx="1168.3" cy="226.0" r="1.6" fill="#00f0ff"/>
<circle cx="1172.3" cy="234.0" r="1.6" fill="#00f0ff"/>
<circle cx="1160.3" cy="238.0" r="1.6" fill="#00f0ff"/>
<circle cx="1177.7" cy="228.7" r="1.6" fill="#00f0ff"/>
<circle cx="1165.7" cy="231.3" r="1.6" fill="#00f0ff"/>
<circle cx="1053.7" cy="260.7" r="2.0" fill="#4dffb3"/>
<circle cx="1043.0" cy="255.3" r="2.0" fill="#4dffb3"/>
</g>
<clipPath id="c2"><rect x="1036.50" y="94.50" width="237.00" height="217.00"/></clipPath>
<path clip-path="url(#c2)" d="M1037.5 95.5L1112.8 95.5L1112.8 91.6M1112.8 91.6L1115.0 92.6L1115.9 97.9L1121.0 99.1L1124.5 99.2L1126.7 99.2L1130.2 102.2L1133.4 103.2L1136.6 104.4L1140.1 103.0L1144.8 104.1L1148.3 105.1M1148.3 105.1L1143.6 107.8L1139.1 111.5L1135.3 114.5L1132.1 117.1M1056.2 95.5L1056.2 167.6M1037.5 132.8L1056.2 132.8M1056.2 124.3L1103.8 124.3M1056.2 150.5L1091.5 150.5L1094.7 152.4L1098.5 151.7L1101.6 152.9L1104.5 154.9M1037.5 167.6L1068.9 167.6M1068.9 167.6L1068.9 200.4M1068.9 176.0L1111.7 176.0M1037.5 200.4L1116.1 200.4M1062.9 200.4L1062.7 239.0M1062.9 204.3L1082.0 204.3L1082.0 219.5M1082.0 219.5L1083.9 220.7L1087.0 221.5L1090.9 222.7L1094.0 222.8L1097.2 224.6L1099.7 225.7L1102.3 225.0L1104.8 225.7L1108.6 225.0L1111.8 224.8L1114.4 225.7L1117.0 226.6M1037.5 240.6L1040.5 240.6L1039.9 239.0L1062.5 239.0M1040.5 240.6L1042.6 242.9L1046.4 245.9L1050.2 249.0L1052.1 253.1L1053.4 256.4L1054.2 257.1L1056.6 258.9L1060.4 261.1L1062.0 261.4L1063.9 258.9L1065.1 255.7L1067.4 254.7L1070.8 255.4L1073.1 255.5L1076.2 258.6L1078.8 263.3L1080.1 266.4L1085.1 272.0L1085.5 275.5L1087.7 279.5L1092.8 281.9L1096.9 283.7L1100.1 282.9M1100.1 282.9L1098.8 277.0L1098.5 273.4L1099.7 269.8L1102.3 266.9L1107.4 264.0L1111.8 261.5L1115.0 258.9L1117.5 257.1L1121.0 256.0M1121.0 256.0L1122.0 253.1L1122.0 249.4L1122.9 245.0L1121.3 241.2L1119.8 239.0L1119.8 227.3L1117.0 226.6M1117.0 226.6L1117.3 213.0L1116.1 204.3L1116.1 183.4M1116.3 183.4L1114.4 181.0L1113.1 177.2L1111.7 176.0L1108.8 171.1L1108.3 167.6L1107.9 165.1L1106.7 161.7L1105.1 157.4L1104.5 154.9L1103.6 151.4L1104.5 146.1M1104.5 146.1L1104.5 130.1L1102.0 127.4L1103.8 124.3L1103.6 121.0L1102.3 115.4L1102.0 109.8L1100.7 105.6L1100.1 100.3L1099.6 95.5M1104.5 146.1L1137.7 146.1M1108.8 171.1L1134.5 171.0L1136.5 172.8M1116.1 204.3L1144.5 204.3L1143.1 208.3L1147.4 208.3M1119.8 231.3L1138.0 231.4M1132.1 117.1L1130.9 117.8L1130.9 122.8L1127.7 124.7L1127.1 127.4L1128.6 129.2L1128.0 132.8L1127.7 135.1L1130.9 137.3L1133.4 139.1L1136.6 142.2L1137.5 146.1L1137.9 148.8L1138.5 152.7L1141.3 154.8M1141.3 154.8L1159.4 154.8M1141.3 154.8L1144.2 158.3L1143.6 161.3L1141.7 163.4L1138.8 164.7L1138.5 167.6L1138.5 169.3L1136.5 172.8M1136.5 172.8L1135.9 176.0L1136.9 178.5L1139.8 182.6L1141.0 184.6L1144.2 185.5L1144.3 187.3L1143.2 190.7L1146.1 193.2L1148.6 198.0L1150.9 200.4M1150.9 200.4L1149.3 203.6L1148.6 204.3L1147.4 208.3L1145.8 211.8L1145.0 215.1L1143.6 216.5L1141.7 220.7L1139.4 224.6L1138.5 227.6L1138.0 231.4L1138.5 235.2L1139.8 236.4L1137.9 239.7L1136.6 242.4L1135.1 246.4M1135.1 246.4L1147.2 246.4L1146.7 249.4L1148.0 252.4M1121.0 256.0L1124.5 255.5L1129.0 256.9L1132.1 256.8L1133.4 255.3L1135.9 256.8L1137.2 258.9L1139.8 260.4L1142.9 260.4L1144.8 260.0L1146.1 258.9L1149.3 261.5L1150.9 260.8L1149.9 258.2L1148.0 256.4L1149.3 254.6L1149.9 253.1L1148.0 252.4M1148.0 252.4L1149.9 251.6L1152.5 250.9L1155.6 251.3L1157.5 252.0L1158.2 248.7L1158.8 250.9L1159.8 252.0L1161.4 251.8M1155.6 251.3L1155.2 239.7L1156.9 216.1M1161.4 251.6L1160.7 246.4L1177.2 246.4M1177.2 246.4L1178.1 248.7L1195.0 249.6L1196.0 251.2L1196.3 248.3L1199.8 248.7M1177.2 246.4L1176.9 242.7L1176.6 237.1L1176.1 232.4L1173.4 216.3M1143.6 216.1L1189.3 216.1M1189.3 216.1L1188.0 218.4L1190.9 220.7L1192.5 223.8L1195.0 226.1L1196.6 228.0L1199.5 231.4L1200.1 234.5L1201.7 237.5L1203.3 238.8M1189.3 216.1L1193.7 214.5L1202.3 214.9L1202.3 215.7L1203.1 215.3L1204.0 217.5L1211.1 217.7L1218.2 224.9M1181.5 216.1L1183.3 213.0L1186.8 211.7L1189.3 210.1L1192.5 207.9L1195.6 207.5L1198.3 203.6M1148.6 204.3L1157.7 204.3L1157.7 202.9L1185.6 203.6L1198.3 203.6L1235.2 203.9M1151.0 200.4L1154.4 199.8L1155.3 197.2L1157.5 194.0L1160.9 192.6L1163.9 194.1L1167.1 193.2L1169.0 191.6L1172.5 190.2L1174.7 186.7L1178.2 185.9L1178.4 183.4L1180.4 183.4L1182.3 185.9L1185.2 187.1L1189.9 186.4L1192.5 189.0M1158.0 194.0L1158.8 189.9L1161.0 186.7L1161.2 181.4L1161.2 161.5M1178.4 183.4L1178.5 161.7M1165.7 161.2L1178.5 161.5L1187.1 161.4M1159.4 154.8L1160.7 160.4L1161.2 161.7L1163.3 162.3L1165.7 161.2M1165.7 161.2L1167.7 158.3L1169.3 154.8L1169.6 150.5L1168.7 148.3L1167.7 144.4L1167.7 141.7L1169.3 137.3L1170.2 133.7L1173.4 131.5L1173.7 134.6L1174.7 131.0L1177.2 129.2L1177.2 126.5L1178.8 125.8M1178.8 125.8L1182.3 127.1L1186.8 129.7L1187.4 132.4L1188.0 135.5L1187.7 139.1L1184.2 144.8L1187.1 144.4L1190.2 141.1L1192.5 145.3L1193.6 150.5L1193.1 154.0L1190.9 154.4L1189.6 156.4L1189.0 158.7L1187.1 161.4M1140.0 114.1L1145.4 117.6L1151.3 120.8L1156.7 123.3L1159.3 126.2L1160.9 129.5L1160.1 132.7M1140.0 114.1L1144.9 115.7L1149.2 114.3L1152.4 112.7L1154.0 112.0L1156.7 113.8L1159.9 114.4L1163.1 118.2L1166.3 119.2L1169.5 117.1L1176.0 115.7L1179.4 115.7L1181.3 118.7L1184.0 120.3L1184.8 124.1L1181.3 121.9L1178.6 121.7L1174.9 121.9L1169.5 123.5L1165.2 123.0L1164.2 126.8L1162.6 130.0L1160.1 132.7M1160.7 131.9L1158.2 136.9L1162.3 131.0L1164.2 130.1L1161.4 137.7L1161.0 140.9L1160.1 143.9L1158.8 150.2L1159.4 154.8M1130.4 116.5L1133.1 115.7L1136.3 114.7L1140.0 114.1M1187.1 161.4L1190.6 163.4L1191.8 163.8L1196.3 163.4L1198.2 163.4L1201.4 161.3L1205.7 159.3L1210.5 156.8L1215.0 153.1L1216.0 151.4L1215.0 148.3L1218.5 147.3L1224.2 148.2L1229.3 147.9L1231.2 146.4L1233.1 145.7L1233.1 142.6L1232.2 140.6L1235.7 137.7L1238.8 134.4L1242.6 132.8L1263.0 132.7L1263.6 131.0L1265.6 130.1L1267.1 130.6L1267.4 129.2L1270.0 126.0L1270.9 124.2L1270.6 121.9L1272.2 120.1L1272.5 117.3M1210.5 156.8L1210.5 159.1L1238.5 159.1L1240.4 162.5L1242.6 164.6M1205.7 159.3L1205.7 178.3M1205.7 170.7L1204.9 172.7L1204.5 176.0L1203.6 178.5L1201.4 181.0L1199.1 182.0L1197.9 184.2L1196.9 185.1L1195.0 187.5L1192.5 189.0M1205.7 178.3L1235.7 178.3M1211.2 177.7L1211.4 182.0L1214.5 180.0L1218.1 180.5M1218.1 180.5L1214.0 184.1L1210.6 187.7L1208.6 191.8L1206.9 194.2L1203.3 196.6L1198.7 198.2L1194.9 196.2L1192.6 193.1L1191.6 189.4M1192.5 189.0L1192.5 191.1L1194.4 194.8L1196.5 196.1L1191.8 200.0L1189.0 202.4L1185.6 203.6M1223.5 181.6L1224.9 182.6L1226.5 184.2L1227.7 185.1L1227.7 186.7L1226.1 189.1L1228.0 189.9L1230.6 191.1L1232.4 192.1L1231.9 189.5L1231.2 186.7L1231.5 184.5L1231.2 182.2L1233.8 181.0L1233.9 179.7L1234.7 180.1L1233.1 183.4L1232.5 185.9L1233.1 188.3L1234.4 190.7L1235.3 192.8L1234.7 196.4L1234.4 199.2L1235.0 199.4L1236.9 196.4L1238.5 193.2L1240.4 188.7L1240.4 185.9L1238.2 183.4L1237.2 180.5L1237.2 178.9L1238.2 177.6M1240.4 188.6L1235.7 188.6L1235.7 178.3L1236.9 177.4L1238.2 177.6M1235.3 192.8L1238.5 192.2M1228.0 189.9L1232.8 193.2L1232.5 195.6L1232.5 198.0L1231.9 198.8L1232.5 200.4L1232.5 200.8L1234.4 200.9L1235.2 203.9L1237.6 209.9L1237.6 214.3L1234.4 215.6L1230.9 219.2L1227.4 218.8L1224.2 221.5L1222.0 225.0L1218.2 224.9L1216.0 226.1L1214.1 229.9L1211.5 231.4L1209.6 233.7L1206.4 235.2L1204.5 237.1L1203.3 238.8L1201.7 242.7L1200.1 245.7L1199.8 248.7L1200.1 251.6L1200.7 254.6L1202.6 259.7L1205.5 265.1L1205.2 268.4L1207.1 272.7L1208.7 277.0L1208.0 284.3L1206.8 287.6L1203.3 288.6L1201.4 286.2L1200.4 284.1L1197.6 281.6L1196.0 279.1L1194.4 276.3L1192.8 273.4L1191.5 271.2L1193.1 269.1L1191.0 268.6L1191.2 265.5L1192.2 261.9L1189.6 260.0L1187.4 257.5L1185.8 254.9L1182.9 253.2L1181.4 254.2L1177.2 256.8L1174.9 256.2L1174.7 254.6L1172.8 252.9L1169.0 251.0L1163.3 251.4L1161.4 251.8M1242.6 164.6L1240.1 167.6L1239.5 170.2L1240.4 172.7L1242.2 174.3L1239.9 176.8L1238.2 177.6M1242.6 164.6L1247.7 167.6L1246.9 170.2L1245.5 171.8L1247.1 172.2L1246.8 176.0L1245.8 179.3L1244.6 181.4L1241.1 184.8L1239.8 182.6L1237.2 180.1M1246.9 171.0L1251.5 170.7L1257.3 168.9L1260.7 167.0L1257.9 166.4L1256.0 167.8L1251.5 168.3L1248.7 168.9L1246.9 171.0M1247.7 167.6L1247.7 168.9L1249.3 167.6M1249.3 167.6L1248.8 166.8L1250.4 165.9L1250.0 165.1L1250.3 158.7L1251.8 152.7L1251.9 146.1L1250.9 145.3L1251.2 140.0L1251.2 132.8M1249.3 167.6L1252.8 166.4L1254.1 165.3L1257.6 165.3L1260.7 164.9L1263.0 164.5L1263.6 162.1L1264.9 163.4L1265.4 163.4L1266.8 163.0L1268.4 161.7L1268.4 163.1L1272.5 162.0M1250.3 158.7L1261.1 159.0L1263.7 159.0L1264.1 160.0L1264.9 161.7L1265.4 163.4M1261.1 159.0L1261.1 164.9M1251.8 152.7L1264.2 153.1L1267.3 151.6L1268.7 153.5L1266.1 156.1L1268.1 157.4L1268.4 159.6L1269.3 161.1L1272.5 161.0M1256.9 152.9L1257.3 147.9L1258.5 143.5L1259.5 140.9L1262.3 137.3L1263.0 132.7M1267.3 151.6L1268.1 149.8L1266.3 147.0L1266.1 141.7L1266.0 136.4L1265.6 130.1M1268.1 149.8L1269.0 147.5L1270.9 144.8L1272.5 143.9M1104.3 254.6L1104.5 261.3M1094.3 281.3L1101.4 282.3M1156.2 247.1L1174.0 248.4M1187.9 161.8L1197.6 168.2" fill="none" stroke="#000" stroke-width="2.6" stroke-linejoin="round" stroke-linecap="round"/>
<path clip-path="url(#c2)" d="M1218.6 222.9L1213.0 229.6L1205.9 234.7L1200.9 240.9L1198.5 247.9M1191.5 262.0L1190.7 268.7L1193.6 274.3L1196.6 281.0L1201.8 286.3L1205.0 289.0L1208.9 295.4M1115.7 255.6L1108.6 260.5L1103.0 264.6M1091.2 272.6L1098.4 273.6M1244.2 166.9L1250.3 165.9L1257.5 162.8L1264.6 160.8L1270.8 161.8M1246.2 170.0L1253.4 166.9L1259.5 165.9M1265.1 155.6L1268.7 156.7L1272.3 160.8M1240.1 166.9L1244.2 173.1L1243.1 177.2M1150.9 200.4L1149.3 203.6L1148.6 204.3L1147.4 208.3L1145.8 211.8L1145.0 215.1L1143.6 216.5L1141.7 220.7L1139.4 224.6L1138.5 227.6L1138.0 231.4L1138.5 235.2L1139.8 236.4L1137.9 239.7L1136.6 242.4L1135.1 246.4M1151.0 200.4L1154.4 199.8L1155.3 197.2L1157.5 194.0L1160.9 192.6M1121.0 256.0L1124.5 255.5L1129.0 256.9L1132.1 256.8L1133.4 255.3L1135.9 256.8L1137.2 258.9L1139.8 260.4L1142.9 260.4L1144.8 260.0" fill="none" stroke="#000" stroke-width="3.4" stroke-linejoin="round" stroke-linecap="round"/>
<path clip-path="url(#c2)" d="M1227.1 181.9L1230.3 180.7L1233.5 180.3L1236.7 179.5L1239.9 181.1L1240.7 185.1L1238.7 189.9L1237.5 194.0L1235.5 197.2L1234.3 198.4L1230.3 198.0L1228.7 195.2L1225.1 194.9L1227.9 191.9L1225.9 188.3L1224.7 187.1L1227.5 185.9ZM1230.2 203.2L1234.0 203.8L1235.5 208.4L1236.1 210.6L1237.3 213.4L1233.5 212.1L1231.3 215.2L1227.6 216.5L1226.2 214.0L1228.4 210.8L1224.9 209.0L1228.7 208.2L1230.9 206.2ZM1133.7 254.0L1137.8 254.9L1141.9 252.2L1145.1 251.2L1149.2 252.2L1150.2 256.3L1152.2 262.8L1149.2 260.1L1147.2 261.4L1145.1 259.3L1142.7 261.8L1141.0 258.8L1137.0 257.3ZM1183.2 141.5L1186.2 140.2L1188.3 142.5L1186.4 145.6L1183.7 145.0Z" fill="#000" stroke="#000" stroke-width="1" stroke-linejoin="round"/>
<rect x="1037.50" y="95.50" width="235.00" height="215.00" fill="none" stroke="#000" stroke-width="1"/>
<text class="b" x="1085.0" y="74.9" font-size="13.4" text-anchor="middle">100<tspan dy="-6.4" font-size="10.5">°</tspan><tspan dy="6.4"> W</tspan></text>
<text class="b" x="1148.9" y="74.9" font-size="13.4" text-anchor="middle">90<tspan dy="-6.4" font-size="10.5">°</tspan><tspan dy="6.4"> W</tspan></text>
<text class="b" x="1212.4" y="74.9" font-size="13.4" text-anchor="middle">80<tspan dy="-6.4" font-size="10.5">°</tspan><tspan dy="6.4"> W</tspan></text>
<text class="b" x="1275.9" y="74.9" font-size="13.4" text-anchor="middle">70<tspan dy="-6.4" font-size="10.5">°</tspan><tspan dy="6.4"> W</tspan></text>
<text class="b" x="1028.2" y="316.7" font-size="13.4" text-anchor="end">22<tspan dy="-7.9" font-size="10.5">°</tspan><tspan dy="7.9"> N</tspan></text>
<text class="b" x="1028.2" y="303.0" font-size="13.4" text-anchor="end">24<tspan dy="-7.9" font-size="10.5">°</tspan><tspan dy="7.9"> N</tspan></text>
<text class="b" x="1028.2" y="289.1" font-size="13.4" text-anchor="end">26<tspan dy="-7.9" font-size="10.5">°</tspan><tspan dy="7.9"> N</tspan></text>
<text class="b" x="1028.2" y="274.9" font-size="13.4" text-anchor="end">28<tspan dy="-7.9" font-size="10.5">°</tspan><tspan dy="7.9"> N</tspan></text>
<text class="b" x="1028.2" y="260.5" font-size="13.4" text-anchor="end">30<tspan dy="-7.9" font-size="10.5">°</tspan><tspan dy="7.9"> N</tspan></text>
<text class="b" x="1028.2" y="245.8" font-size="13.4" text-anchor="end">32<tspan dy="-7.9" font-size="10.5">°</tspan><tspan dy="7.9"> N</tspan></text>
<text class="b" x="1028.2" y="230.7" font-size="13.4" text-anchor="end">34<tspan dy="-7.9" font-size="10.5">°</tspan><tspan dy="7.9"> N</tspan></text>
<text class="b" x="1028.2" y="215.3" font-size="13.4" text-anchor="end">36<tspan dy="-7.9" font-size="10.5">°</tspan><tspan dy="7.9"> N</tspan></text>
<text class="b" x="1028.2" y="199.5" font-size="13.4" text-anchor="end">38<tspan dy="-7.9" font-size="10.5">°</tspan><tspan dy="7.9"> N</tspan></text>
<text class="b" x="1028.2" y="183.3" font-size="13.4" text-anchor="end">40<tspan dy="-7.9" font-size="10.5">°</tspan><tspan dy="7.9"> N</tspan></text>
<text class="b" x="1028.2" y="166.5" font-size="13.4" text-anchor="end">42<tspan dy="-7.9" font-size="10.5">°</tspan><tspan dy="7.9"> N</tspan></text>
<text class="b" x="1028.2" y="149.3" font-size="13.4" text-anchor="end">44<tspan dy="-7.9" font-size="10.5">°</tspan><tspan dy="7.9"> N</tspan></text>
<text class="b" x="1028.2" y="131.4" font-size="13.4" text-anchor="end">46<tspan dy="-7.9" font-size="10.5">°</tspan><tspan dy="7.9"> N</tspan></text>
<text class="b" x="1028.2" y="112.9" font-size="13.4" text-anchor="end">48<tspan dy="-7.9" font-size="10.5">°</tspan><tspan dy="7.9"> N</tspan></text>
<rect x="1285.0" y="93.0" width="24.0" height="219.5" fill="url(#jet)" stroke="#222" stroke-width="0.6"/>
<path d="M1309.0 112.0h-2.5" stroke="#222" stroke-width="0.7"/>
<text class="b" x="1317.7" y="119.8" font-size="21.3">2</text>
<path d="M1309.0 162.0h-2.5" stroke="#222" stroke-width="0.7"/>
<text class="b" x="1317.7" y="169.8" font-size="21.3" letter-spacing="-0.7">1.5</text>
<path d="M1309.0 212.0h-2.5" stroke="#222" stroke-width="0.7"/>
<text class="b" x="1317.7" y="219.8" font-size="21.3">1</text>
<path d="M1309.0 262.0h-2.5" stroke="#222" stroke-width="0.7"/>
<text class="b" x="1317.7" y="269.8" font-size="21.3" letter-spacing="-0.7">0.5</text>
<path d="M1309.0 312.0h-2.5" stroke="#222" stroke-width="0.7"/>
<text class="b" x="1317.7" y="319.8" font-size="21.3">0</text>
<text class="b" x="964.9" y="341.0" font-size="23.1" textLength="371" lengthAdjust="spacing">SAT+RAP 500 hPa MR (g/kg)</text>
</g>
<g id="p4">
<filter id="bl3" filterUnits="userSpaceOnUse" x="145" y="436" width="260" height="280"><feGaussianBlur stdDeviation="1.0"/></filter>
<clipPath id="sw3"><path d="M192.8 484.9L274.9 484.9L281.2 487.0L278.9 498.0L281.8 505.0L278.5 513.0L277.2 517.6L285.2 529.1L293.3 533.8L295.6 529.1L302.5 526.8L309.4 534.9L311.7 543.0L316.3 548.7L317.5 555.6L332.5 555.6L333.6 570.6L337.0 560.0L337.7 574.7L318.3 584.0L310.3 588.7L307.7 593.3L301.0 600.0L295.7 606.7L293.0 618.7L278.3 618.7L278.3 624.0L277.0 632.0L278.3 645.3L270.3 645.3L259.7 646.7L243.7 648.7L235.7 652.0L225.0 656.7L211.7 659.3L201.0 658.0L198.3 645.3L192.3 640.0L192.3 614.7L202.3 613.3L206.3 616.0L207.7 596.0L209.0 588.7L208.3 560.0L209.8 557.9L209.2 554.5L206.9 546.4L202.3 537.8L196.5 534.9L192.8 525.7Z"/></clipPath>
<path d="M192.8 484.9L274.9 484.9L281.2 487.0L278.9 498.0L281.8 505.0L278.5 513.0L277.2 517.6L285.2 529.1L293.3 533.8L295.6 529.1L302.5 526.8L309.4 534.9L311.7 543.0L316.3 548.7L317.5 555.6L332.5 555.6L333.6 570.6L337.0 560.0L337.7 574.7L318.3 584.0L310.3 588.7L307.7 593.3L301.0 600.0L295.7 606.7L293.0 618.7L278.3 618.7L278.3 624.0L277.0 632.0L278.3 645.3L270.3 645.3L259.7 646.7L243.7 648.7L235.7 652.0L225.0 656.7L211.7 659.3L201.0 658.0L198.3 645.3L192.3 640.0L192.3 614.7L202.3 613.3L206.3 616.0L207.7 596.0L209.0 588.7L208.3 560.0L209.8 557.9L209.2 554.5L206.9 546.4L202.3 537.8L196.5 534.9L192.8 525.7Z" fill="#61ff9e" stroke="#61ff9e" stroke-width="1.5" stroke-linejoin="round"/>
<g clip-path="url(#sw3)">
<g filter="url(#bl3)">
<path d="M192.8 484.9L274.9 484.9L281.2 487.0L278.9 498.0L281.8 505.0L278.5 513.0L277.2 517.6L285.2 529.1L293.3 533.8L295.6 529.1L302.5 526.8L309.4 534.9L311.7 543.0L316.3 548.7L317.5 555.6L332.5 555.6L333.6 570.6L337.0 560.0L337.7 574.7L318.3 584.0L310.3 588.7L307.7 593.3L301.0 600.0L295.7 606.7L293.0 618.7L278.3 618.7L278.3 624.0L277.0 632.0L278.3 645.3L270.3 645.3L259.7 646.7L243.7 648.7L235.7 652.0L225.0 656.7L211.7 659.3L201.0 658.0L198.3 645.3L192.3 640.0L192.3 614.7L202.3 613.3L206.3 616.0L207.7 596.0L209.0 588.7L208.3 560.0L209.8 557.9L209.2 554.5L206.9 546.4L202.3 537.8L196.5 534.9L192.8 525.7Z" fill="#61ff9e"/>
<path d="M265.6 486.5L280.6 486.5L278.9 513.0L285.2 529.1L293.3 533.8L277.2 533.8L267.9 509.6Z" fill="#38ffc7"/>
<path d="M202.3 534.9L215.0 537.2L231.1 544.1L244.9 553.3L259.9 566.0L258.7 570.6L228.8 570.6L227.6 557.9L215.0 557.4L208.0 548.7Z" fill="#e5ff1a"/>
<path d="M215.5 548.7L228.8 549.9L231.1 557.9L216.1 557.4Z" fill="#fff000"/>
<path d="M209.2 558.5L227.6 558.5L227.6 570.6L211.5 570.6Z" fill="#e5ff1a"/>
<path d="M295.6 529.1L302.5 526.8L309.4 534.9L311.7 543.0L300.2 544.1L297.9 537.2Z" fill="#1affe5"/>
<path d="M209.0 558.7L226.3 558.7L226.3 568.0L209.0 568.0Z" fill="#faff05"/>
<path d="M209.0 573.3L226.3 573.3L226.3 588.7L209.0 588.7Z" fill="#2effd1"/>
<path d="M229.0 568.0L245.0 568.0L245.0 584.0L229.0 584.0Z" fill="#2effd1"/>
<path d="M245.0 568.0L273.0 568.0L273.0 586.7L245.0 586.7Z" fill="#c7ff38"/>
<path d="M274.3 562.7L295.7 562.7L305.0 584.0L305.0 593.3L275.7 593.3Z" fill="#38ffc7"/>
<path d="M277.0 594.9L295.7 594.9L295.7 606.7L293.0 618.7L278.3 618.7Z" fill="#b3ff4c"/>
<path d="M295.7 596.0L304.3 596.0L299.7 606.7L295.7 606.7Z" fill="#1affe5"/>
<path d="M239.7 606.7L257.0 605.3L277.0 613.3L278.3 624.0L242.3 625.3L238.3 621.3Z" fill="#b3ff4c"/>
<path d="M245.7 635.3L257.7 634.7L258.3 642.7L246.3 643.3Z" fill="#ffe500"/>
<path d="M206.3 606.7L220.3 606.7L220.3 616.0L206.3 616.0Z" fill="#ff9e00"/>
</g>
</g>
<path d="M241.0 591.3L273.7 591.3L274.3 604.0L265.0 606.7L257.0 605.3L243.7 608.0L241.0 600.0Z" fill="#fff"/>
<path d="M242.3 625.3L278.3 624.0L278.3 633.3L259.7 632.7L245.0 633.3L241.0 629.3Z" fill="#fff"/>
<path d="M209.0 590.0L220.7 590.0L220.7 595.7L209.0 596.7Z" fill="#fff"/>
<path d="M231.7 584.0L245.0 583.3L245.0 588.7L231.7 588.7Z" fill="#fff"/>
<path d="M238.3 640.0L245.0 638.7L259.7 645.3L259.7 647.3L243.7 649.1L235.7 652.0Z" fill="#ff7500" stroke="#ff7500" stroke-width="1.5" stroke-linejoin="round"/>
<path d="M192.3 614.7L202.3 613.3L206.3 622.7L211.7 618.7L221.0 613.3L223.0 624.0L230.3 622.7L238.3 621.3L239.0 626.7L243.7 632.0L244.3 638.7L238.3 645.3L243.7 648.0L235.7 652.0L225.0 656.7L211.7 659.3L201.0 658.0L198.3 645.3L192.3 640.0Z" fill="#b30000" stroke="#b30000" stroke-width="1.5" stroke-linejoin="round"/>
<circle cx="229.0" cy="614.7" r="3.0" fill="#ffb300"/>
<circle cx="234.3" cy="616.7" r="3.0" fill="#ffb300"/>
<circle cx="197.7" cy="643.3" r="3.0" fill="#e5ff1a"/>
<circle cx="306.0" cy="559.1" r="3.5" fill="#00e5ff"/>
<circle cx="224.6" cy="646.3" r="3.2" fill="#8a0000"/>
<circle cx="226.1" cy="637.3" r="2.0" fill="#ff8000"/>
<circle cx="225.9" cy="653.1" r="2.6" fill="#ff1a00"/>
<circle cx="216.7" cy="625.2" r="2.0" fill="#ff4c00"/>
<circle cx="222.1" cy="615.2" r="2.6" fill="#fa0000"/>
<circle cx="207.1" cy="653.7" r="2.0" fill="#ff8000"/>
<circle cx="231.7" cy="617.7" r="3.2" fill="#ff4c00"/>
<circle cx="215.5" cy="620.3" r="2.0" fill="#ff1a00"/>
<circle cx="232.2" cy="655.6" r="2.0" fill="#fa0000"/>
<circle cx="207.7" cy="655.7" r="3.2" fill="#ff4c00"/>
<circle cx="224.7" cy="622.4" r="2.0" fill="#8a0000"/>
<circle cx="241.9" cy="652.8" r="2.0" fill="#940000"/>
<circle cx="211.3" cy="621.7" r="2.6" fill="#fa0000"/>
<circle cx="196.3" cy="627.5" r="3.2" fill="#ff4c00"/>
<circle cx="193.1" cy="643.6" r="2.0" fill="#940000"/>
<circle cx="208.7" cy="649.6" r="3.2" fill="#ff8000"/>
<circle cx="209.0" cy="635.2" r="2.0" fill="#8a0000"/>
<circle cx="195.9" cy="656.3" r="3.2" fill="#ff1a00"/>
<clipPath id="c3"><rect x="194.50" y="485.50" width="236.00" height="215.00"/></clipPath>
<path clip-path="url(#c3)" d="M195.5 486.5L270.4 486.5L270.4 482.6M270.4 482.6L272.7 483.6L273.6 488.9L278.7 490.0L282.1 490.1L284.4 490.1L287.8 493.2L291.0 494.1L294.2 495.3L297.6 493.9L302.4 495.1L305.9 496.0M305.9 496.0L301.1 498.6L296.7 502.4L292.9 505.3L289.7 507.9M214.2 486.5L214.2 558.0M195.5 523.5L214.2 523.5M214.2 515.0L261.5 515.0M214.2 541.0L249.3 541.0L252.4 542.9L256.2 542.2L259.4 543.4L262.2 545.4M195.5 558.0L226.8 558.0M226.8 558.0L226.8 590.4M226.8 566.2L269.4 566.2M195.5 590.4L273.8 590.4M220.8 590.4L220.5 628.7M220.8 594.3L239.8 594.3L239.8 609.4M239.8 609.4L241.7 610.6L244.8 611.3L248.6 612.5L251.8 612.6L254.9 614.4L257.5 615.5L260.0 614.8L262.5 615.5L266.3 614.8L269.5 614.6L272.0 615.5L274.7 616.4M195.5 630.3L198.5 630.3L197.9 628.7L220.4 628.7M198.5 630.3L200.6 632.6L204.4 635.5L208.1 638.6L210.0 642.6L211.3 645.9L212.1 646.6L214.5 648.4L218.3 650.6L219.8 650.8L221.7 648.4L223.0 645.2L225.2 644.2L228.7 645.0L230.9 645.0L234.1 648.1L236.6 652.7L237.9 655.8L242.9 661.3L243.2 664.9L245.5 668.7L250.5 671.2L254.6 673.0L257.8 672.2M257.8 672.2L256.5 666.3L256.2 662.7L257.5 659.2L260.0 656.3L265.1 653.5L269.5 651.0L272.7 648.4L275.2 646.6L278.7 645.5M278.7 645.5L279.6 642.6L279.6 639.0L280.6 634.6L279.0 630.9L277.5 628.7L277.5 617.0L274.7 616.4M274.7 616.4L275.0 602.9L273.8 594.3L273.8 573.6M273.9 573.6L272.0 571.2L270.8 567.5L269.4 566.2L266.5 561.4L266.0 558.0L265.6 555.4L264.4 552.1L262.9 547.8L262.2 545.4L261.3 541.9L262.2 536.7M262.2 536.7L262.2 520.8L259.7 518.1L261.5 515.0L261.3 511.8L260.0 506.3L259.7 500.7L258.4 496.5L257.8 491.3L257.3 486.5M262.2 536.7L295.3 536.7M266.5 561.4L292.1 561.3L294.0 563.1M273.8 594.3L302.1 594.3L300.7 598.2L304.9 598.2M277.5 621.0L295.6 621.2M289.7 507.9L288.5 508.6L288.5 513.6L285.3 515.4L284.7 518.1L286.3 519.9L285.6 523.5L285.3 525.7L288.5 527.9L291.0 529.7L294.2 532.7L295.1 536.7L295.4 539.3L296.1 543.1L298.9 545.3M298.9 545.3L316.9 545.3M298.9 545.3L301.7 548.7L301.1 551.7L299.2 553.8L296.4 555.0L296.1 558.0L296.1 559.6L294.0 563.1M294.0 563.1L293.5 566.2L294.5 568.7L297.3 572.8L298.6 574.8L301.7 575.6L301.9 577.4L300.8 580.9L303.6 583.3L306.2 588.0L308.4 590.4M308.4 590.4L306.8 593.5L306.2 594.3L304.9 598.2L303.3 601.7L302.6 605.0L301.1 606.4L299.2 610.6L297.0 614.4L296.1 617.4L295.6 621.2L296.1 624.9L297.3 626.0L295.4 629.4L294.2 632.0L292.7 636.0M292.7 636.0L304.7 636.0L304.3 639.0L305.5 641.9M278.7 645.5L282.1 645.0L286.6 646.4L289.7 646.3L291.0 644.8L293.5 646.3L294.8 648.4L297.3 649.9L300.5 649.9L302.4 649.5L303.6 648.4L306.8 651.0L308.4 650.2L307.4 647.7L305.5 645.9L306.8 644.1L307.4 642.6L305.5 641.9M305.5 641.9L307.4 641.2L310.0 640.4L313.1 640.8L315.0 641.5L315.7 638.2L316.3 640.4L317.2 641.5L318.8 641.3M313.1 640.8L312.7 629.4L314.4 606.0M318.8 641.2L318.2 636.0L334.6 636.0M334.6 636.0L335.5 638.2L352.3 639.2L353.3 640.7L353.6 637.9L357.1 638.2M334.6 636.0L334.3 632.4L334.0 626.8L333.5 622.2L330.8 606.1M301.1 606.0L346.7 606.0M346.7 606.0L345.4 608.3L348.2 610.6L349.8 613.6L352.3 615.9L353.9 617.8L356.8 621.2L357.4 624.2L359.0 627.2L360.6 628.4M346.7 606.0L351.1 604.4L359.6 604.8L359.6 605.6L360.4 605.2L361.3 607.4L368.3 607.5L375.4 614.7M338.9 606.0L340.6 602.9L344.1 601.6L346.7 600.0L349.8 597.8L353.0 597.5L355.6 593.6M306.2 594.3L315.2 594.3L315.2 592.9L343.0 593.5L355.6 593.6L392.4 593.9M308.5 590.4L311.9 589.8L312.8 587.2L315.0 584.1L318.4 582.7L321.4 584.2L324.5 583.3L326.4 581.7L329.9 580.3L332.1 576.8L335.6 576.0L335.8 573.6L337.8 573.6L339.7 576.0L342.5 577.2L347.3 576.6L349.8 579.1M315.5 584.1L316.3 580.1L318.5 576.8L318.6 571.6L318.6 551.9M335.8 573.6L335.9 552.1M323.1 551.6L335.9 551.9L344.4 551.8M316.9 545.3L318.2 550.8L318.7 552.1L320.7 552.7L323.1 551.6M323.1 551.6L325.1 548.7L326.7 545.3L327.0 541.0L326.1 538.8L325.1 534.9L325.1 532.3L326.7 527.9L327.7 524.4L330.8 522.1L331.2 525.3L332.1 521.7L334.6 519.9L334.6 517.2L336.2 516.5M336.2 516.5L339.7 517.8L344.1 520.4L344.8 523.0L345.4 526.1L345.1 529.7L341.6 535.4L344.4 534.9L347.6 531.7L349.8 535.8L351.0 541.0L350.4 544.4L348.2 544.9L347.0 546.8L346.3 549.1L344.4 551.8M297.6 504.9L302.9 508.4L308.8 511.6L314.2 514.0L316.8 516.9L318.4 520.2L317.6 523.4M297.6 504.9L302.4 506.5L306.7 505.1L309.9 503.5L311.5 502.8L314.2 504.7L317.4 505.2L320.6 508.9L323.8 510.0L327.0 507.9L333.4 506.5L336.8 506.5L338.7 509.5L341.4 511.1L342.2 514.8L338.7 512.7L336.0 512.4L332.3 512.7L327.0 514.3L322.7 513.7L321.6 517.5L320.0 520.7L317.6 523.4M318.2 522.6L315.7 527.5L319.8 521.7L321.7 520.8L318.8 528.4L318.5 531.4L317.6 534.5L316.3 540.7L316.9 545.3M288.0 507.3L290.7 506.5L293.9 505.5L297.6 504.9M344.4 551.8L347.9 553.8L349.2 554.2L353.6 553.8L355.5 553.8L358.7 551.7L363.0 549.7L367.8 547.3L372.3 543.6L373.2 541.9L372.3 538.8L375.7 537.8L381.4 538.7L386.5 538.4L388.4 536.9L390.3 536.2L390.3 533.2L389.3 531.2L392.8 528.4L396.0 525.0L399.8 523.5L420.0 523.4L420.6 521.7L422.7 520.8L424.1 521.2L424.4 519.9L427.0 516.8L427.9 514.9L427.6 512.7L429.2 510.8L429.5 508.1M367.8 547.3L367.8 549.5L395.7 549.5L397.6 552.9L399.8 554.9M363.0 549.7L363.0 568.5M363.0 561.0L362.1 562.9L361.8 566.2L360.9 568.7L358.7 571.2L356.5 572.2L355.2 574.4L354.2 575.2L352.3 577.6L349.8 579.1M363.0 568.5L392.9 568.5M368.5 567.9L368.7 572.2L371.8 570.2L375.3 570.7M375.3 570.7L371.2 574.3L367.9 577.8L365.8 581.9L364.2 584.2L360.5 586.7L356.0 588.2L352.2 586.3L350.0 583.2L348.9 579.6M349.8 579.1L349.8 581.3L351.7 584.9L353.8 586.1L349.2 590.0L346.3 592.4L343.0 593.5M380.7 571.8L382.1 572.8L383.6 574.4L384.9 575.2L384.9 576.8L383.3 579.3L385.2 580.1L387.8 581.3L389.5 582.2L389.0 579.7L388.4 576.8L388.7 574.7L388.4 572.4L390.9 571.2L391.0 569.9L391.9 570.3L390.3 573.6L389.7 576.0L390.3 578.4L391.6 580.9L392.5 582.9L391.9 586.4L391.6 589.2L392.2 589.5L394.1 586.4L395.7 583.3L397.6 578.9L397.6 576.0L395.3 573.6L394.4 570.7L394.4 569.1L395.3 567.9M397.6 578.8L392.9 578.8L392.9 568.5L394.1 567.6L395.3 567.9M392.5 582.9L395.7 582.3M385.2 580.1L390.0 583.3L389.7 585.6L389.7 588.0L389.0 588.8L389.7 590.4L389.7 590.8L391.6 591.0L392.4 593.9L394.7 599.8L394.7 604.2L391.6 605.4L388.1 609.0L384.6 608.7L381.4 611.3L379.2 614.8L375.4 614.7L373.2 615.9L371.3 619.7L368.8 621.2L366.9 623.4L363.7 624.9L361.8 626.8L360.6 628.4L359.0 632.4L357.4 635.3L357.1 638.2L357.4 641.2L358.0 644.1L359.9 649.1L362.8 654.5L362.5 657.8L364.4 662.0L365.9 666.3L365.3 673.5L364.0 676.8L360.6 677.8L358.7 675.4L357.7 673.3L354.9 670.9L353.3 668.4L351.7 665.6L350.1 662.7L348.9 660.6L350.4 658.5L348.4 658.0L348.5 654.9L349.5 651.3L347.0 649.5L344.8 647.0L343.2 644.4L340.3 642.8L338.7 643.7L334.6 646.3L332.3 645.7L332.1 644.1L330.2 642.4L326.4 640.6L320.7 640.9L318.8 641.3M399.8 554.9L397.2 558.0L396.6 560.5L397.6 562.9L399.3 564.6L397.1 567.1L395.3 567.9M399.8 554.9L404.8 558.0L404.0 560.5L402.6 562.1L404.2 562.5L403.9 566.2L402.9 569.5L401.7 571.6L398.2 575.0L396.9 572.8L394.4 570.3M404.0 561.3L408.6 561.0L414.3 559.2L417.7 557.4L415.0 556.7L413.1 558.1L408.6 558.6L405.8 559.2L404.0 561.3M404.8 558.0L404.8 559.2L406.4 558.0M406.4 558.0L405.9 557.1L407.5 556.2L407.0 555.4L407.4 549.1L408.9 543.1L408.9 536.7L408.0 535.8L408.3 530.6L408.3 523.5M406.4 558.0L409.9 556.7L411.2 555.7L414.6 555.7L417.7 555.3L420.0 554.9L420.6 552.5L421.9 553.8L422.4 553.8L423.8 553.3L425.4 552.1L425.4 553.5L429.5 552.3M407.4 549.1L418.1 549.4L420.8 549.4L421.1 550.4L421.9 552.1L422.4 553.8M418.1 549.4L418.1 555.3M408.9 543.1L421.3 543.6L424.3 542.1L425.7 544.0L423.2 546.6L425.1 547.8L425.4 550.0L426.3 551.5L429.5 551.4M413.9 543.3L414.3 538.4L415.6 534.1L416.5 531.4L419.4 527.9L420.0 523.4M424.3 542.1L425.1 540.3L423.4 537.5L423.2 532.3L423.0 527.0L422.7 520.8M425.1 540.3L426.0 538.0L427.9 535.4L429.5 534.5M262.0 644.1L262.2 650.7M252.0 670.6L259.2 671.6M313.6 636.7L331.5 638.0M345.3 552.2L354.9 558.5" fill="none" stroke="#000" stroke-width="2.6" stroke-linejoin="round" stroke-linecap="round"/>
<path clip-path="url(#c3)" d="M375.9 612.7L370.3 619.3L363.1 624.4L358.2 630.5L355.8 637.5M348.9 651.4L348.1 658.0L350.9 663.6L354.0 670.3L359.1 675.6L362.3 678.2L366.2 684.5M273.4 645.1L266.3 649.9L260.7 654.0M249.0 661.9L256.1 663.0M401.3 557.3L407.4 556.3L414.5 553.2L421.6 551.2L427.8 552.2M403.3 560.3L410.4 557.3L416.6 556.3M422.2 546.1L425.7 547.1L429.3 551.2M397.2 557.3L401.3 563.4L400.3 567.5M308.4 590.4L306.8 593.5L306.2 594.3L304.9 598.2L303.3 601.7L302.6 605.0L301.1 606.4L299.2 610.6L297.0 614.4L296.1 617.4L295.6 621.2L296.1 624.9L297.3 626.0L295.4 629.4L294.2 632.0L292.7 636.0M308.5 590.4L311.9 589.8L312.8 587.2L315.0 584.1L318.4 582.7M278.7 645.5L282.1 645.0L286.6 646.4L289.7 646.3L291.0 644.8L293.5 646.3L294.8 648.4L297.3 649.9L300.5 649.9L302.4 649.5" fill="none" stroke="#000" stroke-width="3.4" stroke-linejoin="round" stroke-linecap="round"/>
<path clip-path="url(#c3)" d="M384.3 572.1L387.5 570.9L390.7 570.5L393.9 569.8L397.0 571.3L397.8 575.3L395.8 580.1L394.7 584.0L392.7 587.2L391.5 588.4L387.5 588.0L385.9 585.2L382.3 585.0L385.1 582.0L383.1 578.5L381.9 577.3L384.7 576.1ZM387.4 593.2L391.2 593.8L392.7 598.3L393.3 600.5L394.5 603.3L390.7 602.0L388.5 605.1L384.8 606.4L383.4 603.8L385.6 600.7L382.1 598.9L385.9 598.2L388.1 596.2ZM291.3 643.6L295.3 644.4L299.4 641.8L302.7 640.8L306.7 641.8L307.7 645.8L309.7 652.2L306.7 649.6L304.7 650.9L302.7 648.8L300.2 651.2L298.6 648.3L294.5 646.8ZM340.5 532.0L343.6 530.8L345.6 533.0L343.8 536.1L341.0 535.5Z" fill="#000" stroke="#000" stroke-width="1" stroke-linejoin="round"/>
<rect x="195.50" y="486.50" width="234.00" height="213.00" fill="none" stroke="#000" stroke-width="1"/>
<text class="b" x="241.0" y="467.2" font-size="13.4" text-anchor="middle">100<tspan dy="-6.4" font-size="10.5">°</tspan><tspan dy="6.4"> W</tspan></text>
<text class="b" x="306.2" y="467.2" font-size="13.4" text-anchor="middle">90<tspan dy="-6.4" font-size="10.5">°</tspan><tspan dy="6.4"> W</tspan></text>
<text class="b" x="369.5" y="467.2" font-size="13.4" text-anchor="middle">80<tspan dy="-6.4" font-size="10.5">°</tspan><tspan dy="6.4"> W</tspan></text>
<text class="b" x="432.7" y="467.2" font-size="13.4" text-anchor="middle">70<tspan dy="-6.4" font-size="10.5">°</tspan><tspan dy="6.4"> W</tspan></text>
<text class="b" x="186.2" y="705.7" font-size="13.4" text-anchor="end">22<tspan dy="-7.9" font-size="10.5">°</tspan><tspan dy="7.9"> N</tspan></text>
<text class="b" x="186.2" y="692.1" font-size="13.4" text-anchor="end">24<tspan dy="-7.9" font-size="10.5">°</tspan><tspan dy="7.9"> N</tspan></text>
<text class="b" x="186.2" y="678.3" font-size="13.4" text-anchor="end">26<tspan dy="-7.9" font-size="10.5">°</tspan><tspan dy="7.9"> N</tspan></text>
<text class="b" x="186.2" y="664.3" font-size="13.4" text-anchor="end">28<tspan dy="-7.9" font-size="10.5">°</tspan><tspan dy="7.9"> N</tspan></text>
<text class="b" x="186.2" y="650.0" font-size="13.4" text-anchor="end">30<tspan dy="-7.9" font-size="10.5">°</tspan><tspan dy="7.9"> N</tspan></text>
<text class="b" x="186.2" y="635.4" font-size="13.4" text-anchor="end">32<tspan dy="-7.9" font-size="10.5">°</tspan><tspan dy="7.9"> N</tspan></text>
<text class="b" x="186.2" y="620.5" font-size="13.4" text-anchor="end">34<tspan dy="-7.9" font-size="10.5">°</tspan><tspan dy="7.9"> N</tspan></text>
<text class="b" x="186.2" y="605.3" font-size="13.4" text-anchor="end">36<tspan dy="-7.9" font-size="10.5">°</tspan><tspan dy="7.9"> N</tspan></text>
<text class="b" x="186.2" y="589.6" font-size="13.4" text-anchor="end">38<tspan dy="-7.9" font-size="10.5">°</tspan><tspan dy="7.9"> N</tspan></text>
<text class="b" x="186.2" y="573.5" font-size="13.4" text-anchor="end">40<tspan dy="-7.9" font-size="10.5">°</tspan><tspan dy="7.9"> N</tspan></text>
<text class="b" x="186.2" y="556.9" font-size="13.4" text-anchor="end">42<tspan dy="-7.9" font-size="10.5">°</tspan><tspan dy="7.9"> N</tspan></text>
<text class="b" x="186.2" y="539.9" font-size="13.4" text-anchor="end">44<tspan dy="-7.9" font-size="10.5">°</tspan><tspan dy="7.9"> N</tspan></text>
<text class="b" x="186.2" y="522.2" font-size="13.4" text-anchor="end">46<tspan dy="-7.9" font-size="10.5">°</tspan><tspan dy="7.9"> N</tspan></text>
<text class="b" x="186.2" y="503.8" font-size="13.4" text-anchor="end">48<tspan dy="-7.9" font-size="10.5">°</tspan><tspan dy="7.9"> N</tspan></text>
<rect x="441.0" y="483.1" width="24.0" height="219.6" fill="url(#jet)" stroke="#222" stroke-width="0.6"/>
<path d="M465.0 500.0h-2.5" stroke="#222" stroke-width="0.7"/>
<text class="b" x="473.7" y="507.8" font-size="21.3">4</text>
<path d="M465.0 546.0h-2.5" stroke="#222" stroke-width="0.7"/>
<text class="b" x="473.7" y="553.8" font-size="21.3">2</text>
<path d="M465.0 592.0h-2.5" stroke="#222" stroke-width="0.7"/>
<text class="b" x="473.7" y="599.8" font-size="21.3">0</text>
<path d="M465.0 638.0h-2.5" stroke="#222" stroke-width="0.7"/>
<text class="b" x="473.7" y="645.8" font-size="21.3">-2</text>
<path d="M465.0 684.0h-2.5" stroke="#222" stroke-width="0.7"/>
<text class="b" x="473.7" y="691.8" font-size="21.3">-4</text>
<text class="b" x="128.2" y="731.0" font-size="23.1" textLength="358.5" lengthAdjust="spacing">SAT-RAP 850 hPa MR (g/kg)</text>
</g>
<g id="p5">
<filter id="bl4" filterUnits="userSpaceOnUse" x="566" y="436" width="260" height="280"><feGaussianBlur stdDeviation="1.0"/></filter>
<clipPath id="sw4"><path d="M613.8 484.9L695.9 484.9L703.9 487.0L699.9 498.0L702.8 505.0L700.5 513.0L701.6 519.9L706.2 523.4L713.1 519.9L721.2 523.4L729.3 528.0L732.7 537.2L737.3 543.0L740.8 534.9L746.0 534.9L747.1 548.7L754.6 554.5L755.2 570.6L758.0 560.0L758.7 574.7L739.3 584.0L731.3 588.7L728.7 593.3L722.0 600.0L720.7 616.0L714.0 618.7L699.3 618.7L698.0 621.3L686.0 624.0L672.7 625.3L662.0 626.7L651.3 629.3L662.0 632.7L680.7 633.3L699.3 634.7L702.0 640.0L699.3 645.3L691.3 645.3L680.7 646.7L664.7 648.7L656.7 653.3L646.0 657.3L632.7 660.0L618.0 661.3L613.3 653.3L613.3 598.7L614.0 585.3L624.7 584.0L624.7 560.0L624.4 559.1L617.5 558.5L613.8 553.3Z"/></clipPath>
<path d="M613.8 484.9L695.9 484.9L703.9 487.0L699.9 498.0L702.8 505.0L700.5 513.0L701.6 519.9L706.2 523.4L713.1 519.9L721.2 523.4L729.3 528.0L732.7 537.2L737.3 543.0L740.8 534.9L746.0 534.9L747.1 548.7L754.6 554.5L755.2 570.6L758.0 560.0L758.7 574.7L739.3 584.0L731.3 588.7L728.7 593.3L722.0 600.0L720.7 616.0L714.0 618.7L699.3 618.7L698.0 621.3L686.0 624.0L672.7 625.3L662.0 626.7L651.3 629.3L662.0 632.7L680.7 633.3L699.3 634.7L702.0 640.0L699.3 645.3L691.3 645.3L680.7 646.7L664.7 648.7L656.7 653.3L646.0 657.3L632.7 660.0L618.0 661.3L613.3 653.3L613.3 598.7L614.0 585.3L624.7 584.0L624.7 560.0L624.4 559.1L617.5 558.5L613.8 553.3Z" fill="#57ffa8" stroke="#57ffa8" stroke-width="1.5" stroke-linejoin="round"/>
<g clip-path="url(#sw4)">
<g filter="url(#bl4)">
<path d="M613.8 484.9L695.9 484.9L703.9 487.0L699.9 498.0L702.8 505.0L700.5 513.0L701.6 519.9L706.2 523.4L713.1 519.9L721.2 523.4L729.3 528.0L732.7 537.2L737.3 543.0L740.8 534.9L746.0 534.9L747.1 548.7L754.6 554.5L755.2 570.6L758.0 560.0L758.7 574.7L739.3 584.0L731.3 588.7L728.7 593.3L722.0 600.0L720.7 616.0L714.0 618.7L699.3 618.7L698.0 621.3L686.0 624.0L672.7 625.3L662.0 626.7L651.3 629.3L662.0 632.7L680.7 633.3L699.3 634.7L702.0 640.0L699.3 645.3L691.3 645.3L680.7 646.7L664.7 648.7L656.7 653.3L646.0 657.3L632.7 660.0L618.0 661.3L613.3 653.3L613.3 598.7L614.0 585.3L624.7 584.0L624.7 560.0L624.4 559.1L617.5 558.5L613.8 553.3Z" fill="#57ffa8"/>
<path d="M688.9 486.5L702.8 486.5L700.5 513.0L706.2 523.4L714.3 521.1L721.2 524.5L714.3 533.8L698.2 533.8L690.1 509.6Z" fill="#2effd1"/>
<path d="M626.7 525.7L634.8 525.7L634.8 555.6L626.7 555.6Z" fill="#d1ff2e"/>
<path d="M637.1 541.8L686.6 541.8L688.9 564.9L637.1 564.9Z" fill="#9eff61"/>
<path d="M634.8 546.4L652.1 548.7L665.9 555.6L679.7 567.2L670.5 570.6L649.8 570.6L648.6 557.9L636.0 557.4Z" fill="#dbff24"/>
<path d="M613.8 525.7L625.6 525.7L626.7 555.6L613.8 555.6Z" fill="#1affe5"/>
<path d="M624.4 559.1L648.6 559.1L648.6 570.6L624.4 570.6Z" fill="#ff9e00"/>
<path d="M624.7 559.3L647.3 559.3L647.3 588.7L624.7 588.7Z" fill="#ff9e00"/>
<path d="M632.7 564.0L646.0 564.0L646.0 573.3L632.7 573.3Z" fill="#d1ff2e"/>
<path d="M721.2 545.3L738.5 545.3L738.5 557.9L718.9 557.9Z" fill="#05fffa"/>
<path d="M648.7 566.0L694.0 566.0L694.7 589.1L648.0 589.1Z" fill="#d1ff2e"/>
<path d="M655.3 573.3L675.3 572.0L691.3 580.0L690.0 584.0L672.7 580.0L656.7 580.0Z" fill="#ff8000"/>
<path d="M650.0 570.7L659.3 570.7L659.3 578.7L650.0 578.7Z" fill="#05fffa"/>
<path d="M699.3 600.0L707.3 600.0L708.7 610.7L699.3 612.0Z" fill="#fffa00"/>
<path d="M704.7 600.0L720.7 598.7L720.7 616.0L707.3 616.0Z" fill="#05fffa"/>
<path d="M623.3 591.3L641.3 591.3L641.3 604.0L632.7 604.0L623.3 598.7Z" fill="#ffc700"/>
<path d="M644.7 596.0L658.0 596.0L658.0 605.3L644.7 605.3Z" fill="#ff8a00"/>
<path d="M644.7 605.3L652.7 605.3L652.7 616.0L644.7 616.0Z" fill="#bdff42"/>
<path d="M664.7 605.3L675.3 605.3L676.0 612.0L664.7 611.3Z" fill="#e50000"/>
<path d="M618.0 622.7L631.3 618.7L631.3 624.0L618.0 626.7Z" fill="#ff9e00"/>
<path d="M678.0 634.7L691.3 634.7L691.3 643.3L678.0 643.3Z" fill="#94ff6b"/>
<path d="M659.3 634.7L666.0 634.7L666.0 640.0L659.3 642.7Z" fill="#ff9e00"/>
</g>
</g>
<path d="M662.0 591.3L694.7 591.3L695.3 604.7L662.0 605.3Z" fill="#fff"/>
<path d="M613.3 598.7L626.0 600.0L639.3 612.0L643.3 616.0L650.0 612.0L659.3 610.7L663.3 613.3L675.3 614.7L686.0 616.0L696.7 617.3L698.0 621.3L686.0 624.0L672.7 625.3L662.0 626.7L651.3 629.3L662.0 632.7L664.7 637.3L664.7 648.0L656.7 653.3L646.0 657.3L632.7 660.0L618.0 661.3L613.3 653.3Z" fill="#c70000" stroke="#c70000" stroke-width="1.5" stroke-linejoin="round"/>
<circle cx="668.0" cy="588.0" r="3.7" fill="#e50000"/>
<circle cx="686.0" cy="611.3" r="2.2" fill="#e50000"/>
<circle cx="671.3" cy="638.7" r="5.3" fill="#fa0000"/>
<circle cx="695.3" cy="638.0" r="4.0" fill="#e50000"/>
<circle cx="704.7" cy="638.7" r="2.2" fill="#ffe500"/>
<circle cx="619.3" cy="585.3" r="3.0" fill="#0080ff"/>
<circle cx="615.3" cy="588.7" r="2.0" fill="#004dff"/>
<circle cx="620.7" cy="595.3" r="3.0" fill="#002eff"/>
<circle cx="644.7" cy="580.0" r="2.5" fill="#0080ff"/>
<circle cx="744.9" cy="618.7" r="4.0" fill="#d10000"/>
<circle cx="730.7" cy="632.0" r="3.0" fill="#d10000"/>
<circle cx="743.1" cy="537.2" r="3.5" fill="#00f0ff"/>
<circle cx="746.6" cy="499.8" r="4.0" fill="#00f0ff"/>
<circle cx="751.2" cy="556.8" r="3.5" fill="#00f0ff"/>
<circle cx="634.9" cy="576.0" r="2.6" fill="#ff4c00"/>
<circle cx="636.1" cy="576.8" r="3.2" fill="#ffdb00"/>
<circle cx="635.5" cy="577.6" r="2.0" fill="#ffdb00"/>
<circle cx="634.8" cy="564.0" r="3.2" fill="#b3ff4c"/>
<circle cx="639.1" cy="577.1" r="2.6" fill="#ff4c00"/>
<circle cx="639.5" cy="577.6" r="3.2" fill="#ffdb00"/>
<circle cx="625.1" cy="575.2" r="2.0" fill="#e5ff1a"/>
<circle cx="628.9" cy="566.9" r="2.6" fill="#e5ff1a"/>
<circle cx="632.0" cy="576.9" r="3.2" fill="#ffdb00"/>
<circle cx="630.0" cy="568.4" r="3.2" fill="#e5ff1a"/>
<circle cx="652.5" cy="581.1" r="3.2" fill="#b3ff4c"/>
<circle cx="693.9" cy="585.2" r="2.6" fill="#ff6100"/>
<circle cx="683.1" cy="578.0" r="2.0" fill="#ffdb00"/>
<circle cx="674.1" cy="569.1" r="2.6" fill="#ffdb00"/>
<circle cx="666.1" cy="587.7" r="2.0" fill="#ffdb00"/>
<circle cx="658.1" cy="586.7" r="2.6" fill="#b3ff4c"/>
<circle cx="693.1" cy="575.5" r="3.2" fill="#ffdb00"/>
<circle cx="677.2" cy="583.7" r="2.6" fill="#ff6100"/>
<circle cx="652.7" cy="574.0" r="2.0" fill="#b3ff4c"/>
<circle cx="654.8" cy="582.3" r="2.0" fill="#ffdb00"/>
<circle cx="656.5" cy="611.7" r="3.2" fill="#940000"/>
<circle cx="634.4" cy="612.3" r="2.0" fill="#940000"/>
<circle cx="652.9" cy="609.2" r="2.6" fill="#ff8000"/>
<circle cx="698.5" cy="600.0" r="2.6" fill="#ffb300"/>
<circle cx="699.2" cy="600.5" r="2.6" fill="#fa0000"/>
<circle cx="699.1" cy="614.4" r="2.0" fill="#ffb300"/>
<circle cx="622.7" cy="603.5" r="2.6" fill="#ff8000"/>
<circle cx="620.1" cy="614.7" r="2.6" fill="#9e0000"/>
<circle cx="625.2" cy="602.1" r="3.2" fill="#ffb300"/>
<circle cx="638.8" cy="614.4" r="3.2" fill="#9e0000"/>
<circle cx="655.6" cy="623.1" r="3.2" fill="#ff8000"/>
<circle cx="630.1" cy="609.2" r="2.0" fill="#940000"/>
<circle cx="644.1" cy="605.5" r="2.0" fill="#ffb300"/>
<circle cx="677.3" cy="603.9" r="3.2" fill="#940000"/>
<circle cx="635.1" cy="622.8" r="3.2" fill="#ff8000"/>
<circle cx="625.6" cy="601.2" r="2.0" fill="#ff1a00"/>
<circle cx="637.2" cy="636.8" r="2.6" fill="#ff4c00"/>
<circle cx="633.1" cy="655.9" r="2.6" fill="#ff4c00"/>
<circle cx="637.6" cy="656.5" r="2.0" fill="#ff1a00"/>
<circle cx="624.4" cy="645.7" r="3.2" fill="#ff8000"/>
<circle cx="617.3" cy="635.6" r="3.2" fill="#9e0000"/>
<circle cx="614.8" cy="637.2" r="2.0" fill="#ff4c00"/>
<circle cx="616.8" cy="634.5" r="3.2" fill="#940000"/>
<circle cx="640.0" cy="633.2" r="2.0" fill="#940000"/>
<circle cx="654.4" cy="658.1" r="3.2" fill="#ff8000"/>
<circle cx="656.9" cy="646.7" r="2.6" fill="#ff1a00"/>
<circle cx="655.2" cy="649.9" r="2.0" fill="#ff1a00"/>
<circle cx="641.1" cy="631.5" r="3.2" fill="#ff1a00"/>
<circle cx="628.1" cy="633.3" r="2.0" fill="#ff1a00"/>
<circle cx="634.5" cy="640.1" r="3.2" fill="#ff1a00"/>
<circle cx="647.5" cy="633.1" r="2.6" fill="#940000"/>
<circle cx="617.9" cy="643.2" r="2.6" fill="#ff1a00"/>
<clipPath id="c4"><rect x="615.50" y="485.50" width="236.00" height="215.00"/></clipPath>
<path clip-path="url(#c4)" d="M616.5 486.5L691.4 486.5L691.4 482.6M691.4 482.6L693.7 483.6L694.6 488.9L699.7 490.0L703.1 490.1L705.4 490.1L708.8 493.2L712.0 494.1L715.2 495.3L718.6 493.9L723.4 495.1L726.9 496.0M726.9 496.0L722.1 498.6L717.7 502.4L713.9 505.3L710.7 507.9M635.2 486.5L635.2 558.0M616.5 523.5L635.2 523.5M635.2 515.0L682.5 515.0M635.2 541.0L670.3 541.0L673.4 542.9L677.2 542.2L680.4 543.4L683.2 545.4M616.5 558.0L647.8 558.0M647.8 558.0L647.8 590.4M647.8 566.2L690.4 566.2M616.5 590.4L694.8 590.4M641.8 590.4L641.5 628.7M641.8 594.3L660.8 594.3L660.8 609.4M660.8 609.4L662.7 610.6L665.8 611.3L669.6 612.5L672.8 612.6L675.9 614.4L678.5 615.5L681.0 614.8L683.5 615.5L687.3 614.8L690.5 614.6L693.0 615.5L695.7 616.4M616.5 630.3L619.5 630.3L618.9 628.7L641.4 628.7M619.5 630.3L621.6 632.6L625.4 635.5L629.1 638.6L631.0 642.6L632.3 645.9L633.1 646.6L635.5 648.4L639.3 650.6L640.8 650.8L642.7 648.4L644.0 645.2L646.2 644.2L649.7 645.0L651.9 645.0L655.1 648.1L657.6 652.7L658.9 655.8L663.9 661.3L664.2 664.9L666.5 668.7L671.5 671.2L675.6 673.0L678.8 672.2M678.8 672.2L677.5 666.3L677.2 662.7L678.5 659.2L681.0 656.3L686.1 653.5L690.5 651.0L693.7 648.4L696.2 646.6L699.7 645.5M699.7 645.5L700.6 642.6L700.6 639.0L701.6 634.6L700.0 630.9L698.5 628.7L698.5 617.0L695.7 616.4M695.7 616.4L696.0 602.9L694.8 594.3L694.8 573.6M694.9 573.6L693.0 571.2L691.8 567.5L690.4 566.2L687.5 561.4L687.0 558.0L686.6 555.4L685.4 552.1L683.9 547.8L683.2 545.4L682.3 541.9L683.2 536.7M683.2 536.7L683.2 520.8L680.7 518.1L682.5 515.0L682.3 511.8L681.0 506.3L680.7 500.7L679.4 496.5L678.8 491.3L678.3 486.5M683.2 536.7L716.3 536.7M687.5 561.4L713.1 561.3L715.0 563.1M694.8 594.3L723.1 594.3L721.7 598.2L725.9 598.2M698.5 621.0L716.6 621.2M710.7 507.9L709.5 508.6L709.5 513.6L706.3 515.4L705.7 518.1L707.3 519.9L706.6 523.5L706.3 525.7L709.5 527.9L712.0 529.7L715.2 532.7L716.1 536.7L716.4 539.3L717.1 543.1L719.9 545.3M719.9 545.3L737.9 545.3M719.9 545.3L722.7 548.7L722.1 551.7L720.2 553.8L717.4 555.0L717.1 558.0L717.1 559.6L715.0 563.1M715.0 563.1L714.5 566.2L715.5 568.7L718.3 572.8L719.6 574.8L722.7 575.6L722.9 577.4L721.8 580.9L724.6 583.3L727.2 588.0L729.4 590.4M729.4 590.4L727.8 593.5L727.2 594.3L725.9 598.2L724.3 601.7L723.6 605.0L722.1 606.4L720.2 610.6L718.0 614.4L717.1 617.4L716.6 621.2L717.1 624.9L718.3 626.0L716.4 629.4L715.2 632.0L713.7 636.0M713.7 636.0L725.7 636.0L725.3 639.0L726.5 641.9M699.7 645.5L703.1 645.0L707.6 646.4L710.7 646.3L712.0 644.8L714.5 646.3L715.8 648.4L718.3 649.9L721.5 649.9L723.4 649.5L724.6 648.4L727.8 651.0L729.4 650.2L728.4 647.7L726.5 645.9L727.8 644.1L728.4 642.6L726.5 641.9M726.5 641.9L728.4 641.2L731.0 640.4L734.1 640.8L736.0 641.5L736.7 638.2L737.3 640.4L738.2 641.5L739.8 641.3M734.1 640.8L733.7 629.4L735.4 606.0M739.8 641.2L739.2 636.0L755.6 636.0M755.6 636.0L756.5 638.2L773.3 639.2L774.3 640.7L774.6 637.9L778.1 638.2M755.6 636.0L755.3 632.4L755.0 626.8L754.5 622.2L751.8 606.1M722.1 606.0L767.7 606.0M767.7 606.0L766.4 608.3L769.2 610.6L770.8 613.6L773.3 615.9L774.9 617.8L777.8 621.2L778.4 624.2L780.0 627.2L781.6 628.4M767.7 606.0L772.1 604.4L780.6 604.8L780.6 605.6L781.4 605.2L782.3 607.4L789.3 607.5L796.4 614.7M759.9 606.0L761.6 602.9L765.1 601.6L767.7 600.0L770.8 597.8L774.0 597.5L776.6 593.6M727.2 594.3L736.2 594.3L736.2 592.9L764.0 593.5L776.6 593.6L813.4 593.9M729.5 590.4L732.9 589.8L733.8 587.2L736.0 584.1L739.4 582.7L742.4 584.2L745.5 583.3L747.4 581.7L750.9 580.3L753.1 576.8L756.6 576.0L756.8 573.6L758.8 573.6L760.7 576.0L763.5 577.2L768.3 576.6L770.8 579.1M736.5 584.1L737.3 580.1L739.5 576.8L739.6 571.6L739.6 551.9M756.8 573.6L756.9 552.1M744.1 551.6L756.9 551.9L765.4 551.8M737.9 545.3L739.2 550.8L739.7 552.1L741.7 552.7L744.1 551.6M744.1 551.6L746.1 548.7L747.7 545.3L748.0 541.0L747.1 538.8L746.1 534.9L746.1 532.3L747.7 527.9L748.7 524.4L751.8 522.1L752.2 525.3L753.1 521.7L755.6 519.9L755.6 517.2L757.2 516.5M757.2 516.5L760.7 517.8L765.1 520.4L765.8 523.0L766.4 526.1L766.1 529.7L762.6 535.4L765.4 534.9L768.6 531.7L770.8 535.8L772.0 541.0L771.4 544.4L769.2 544.9L768.0 546.8L767.3 549.1L765.4 551.8M718.6 504.9L723.9 508.4L729.8 511.6L735.2 514.0L737.8 516.9L739.4 520.2L738.6 523.4M718.6 504.9L723.4 506.5L727.7 505.1L730.9 503.5L732.5 502.8L735.2 504.7L738.4 505.2L741.6 508.9L744.8 510.0L748.0 507.9L754.4 506.5L757.8 506.5L759.7 509.5L762.4 511.1L763.2 514.8L759.7 512.7L757.0 512.4L753.3 512.7L748.0 514.3L743.7 513.7L742.6 517.5L741.0 520.7L738.6 523.4M739.2 522.6L736.7 527.5L740.8 521.7L742.7 520.8L739.8 528.4L739.5 531.4L738.6 534.5L737.3 540.7L737.9 545.3M709.0 507.3L711.7 506.5L714.9 505.5L718.6 504.9M765.4 551.8L768.9 553.8L770.2 554.2L774.6 553.8L776.5 553.8L779.7 551.7L784.0 549.7L788.8 547.3L793.3 543.6L794.2 541.9L793.3 538.8L796.7 537.8L802.4 538.7L807.5 538.4L809.4 536.9L811.3 536.2L811.3 533.2L810.3 531.2L813.8 528.4L817.0 525.0L820.8 523.5L841.0 523.4L841.6 521.7L843.7 520.8L845.1 521.2L845.4 519.9L848.0 516.8L848.9 514.9L848.6 512.7L850.2 510.8L850.5 508.1M788.8 547.3L788.8 549.5L816.7 549.5L818.6 552.9L820.8 554.9M784.0 549.7L784.0 568.5M784.0 561.0L783.1 562.9L782.8 566.2L781.9 568.7L779.7 571.2L777.5 572.2L776.2 574.4L775.2 575.2L773.3 577.6L770.8 579.1M784.0 568.5L813.9 568.5M789.5 567.9L789.7 572.2L792.8 570.2L796.3 570.7M796.3 570.7L792.2 574.3L788.9 577.8L786.8 581.9L785.2 584.2L781.5 586.7L777.0 588.2L773.2 586.3L771.0 583.2L769.9 579.6M770.8 579.1L770.8 581.3L772.7 584.9L774.8 586.1L770.2 590.0L767.3 592.4L764.0 593.5M801.7 571.8L803.1 572.8L804.6 574.4L805.9 575.2L805.9 576.8L804.3 579.3L806.2 580.1L808.8 581.3L810.5 582.2L810.0 579.7L809.4 576.8L809.7 574.7L809.4 572.4L811.9 571.2L812.0 569.9L812.9 570.3L811.3 573.6L810.7 576.0L811.3 578.4L812.6 580.9L813.5 582.9L812.9 586.4L812.6 589.2L813.2 589.5L815.1 586.4L816.7 583.3L818.6 578.9L818.6 576.0L816.3 573.6L815.4 570.7L815.4 569.1L816.3 567.9M818.6 578.8L813.9 578.8L813.9 568.5L815.1 567.6L816.3 567.9M813.5 582.9L816.7 582.3M806.2 580.1L811.0 583.3L810.7 585.6L810.7 588.0L810.0 588.8L810.7 590.4L810.7 590.8L812.6 591.0L813.4 593.9L815.7 599.8L815.7 604.2L812.6 605.4L809.1 609.0L805.6 608.7L802.4 611.3L800.2 614.8L796.4 614.7L794.2 615.9L792.3 619.7L789.8 621.2L787.9 623.4L784.7 624.9L782.8 626.8L781.6 628.4L780.0 632.4L778.4 635.3L778.1 638.2L778.4 641.2L779.0 644.1L780.9 649.1L783.8 654.5L783.5 657.8L785.4 662.0L786.9 666.3L786.3 673.5L785.0 676.8L781.6 677.8L779.7 675.4L778.7 673.3L775.9 670.9L774.3 668.4L772.7 665.6L771.1 662.7L769.9 660.6L771.4 658.5L769.4 658.0L769.5 654.9L770.5 651.3L768.0 649.5L765.8 647.0L764.2 644.4L761.3 642.8L759.7 643.7L755.6 646.3L753.3 645.7L753.1 644.1L751.2 642.4L747.4 640.6L741.7 640.9L739.8 641.3M820.8 554.9L818.2 558.0L817.6 560.5L818.6 562.9L820.3 564.6L818.1 567.1L816.3 567.9M820.8 554.9L825.8 558.0L825.0 560.5L823.6 562.1L825.2 562.5L824.9 566.2L823.9 569.5L822.7 571.6L819.2 575.0L817.9 572.8L815.4 570.3M825.0 561.3L829.6 561.0L835.3 559.2L838.7 557.4L836.0 556.7L834.1 558.1L829.6 558.6L826.8 559.2L825.0 561.3M825.8 558.0L825.8 559.2L827.4 558.0M827.4 558.0L826.9 557.1L828.5 556.2L828.0 555.4L828.4 549.1L829.9 543.1L829.9 536.7L829.0 535.8L829.3 530.6L829.3 523.5M827.4 558.0L830.9 556.7L832.2 555.7L835.6 555.7L838.7 555.3L841.0 554.9L841.6 552.5L842.9 553.8L843.4 553.8L844.8 553.3L846.4 552.1L846.4 553.5L850.5 552.3M828.4 549.1L839.1 549.4L841.8 549.4L842.1 550.4L842.9 552.1L843.4 553.8M839.1 549.4L839.1 555.3M829.9 543.1L842.3 543.6L845.3 542.1L846.7 544.0L844.2 546.6L846.1 547.8L846.4 550.0L847.3 551.5L850.5 551.4M834.9 543.3L835.3 538.4L836.6 534.1L837.5 531.4L840.4 527.9L841.0 523.4M845.3 542.1L846.1 540.3L844.4 537.5L844.2 532.3L844.0 527.0L843.7 520.8M846.1 540.3L847.0 538.0L848.9 535.4L850.5 534.5M683.0 644.1L683.2 650.7M673.0 670.6L680.2 671.6M734.6 636.7L752.5 638.0M766.3 552.2L775.9 558.5" fill="none" stroke="#000" stroke-width="2.6" stroke-linejoin="round" stroke-linecap="round"/>
<path clip-path="url(#c4)" d="M796.9 612.7L791.3 619.3L784.1 624.4L779.2 630.5L776.8 637.5M769.9 651.4L769.1 658.0L771.9 663.6L775.0 670.3L780.1 675.6L783.3 678.2L787.2 684.5M694.4 645.1L687.3 649.9L681.7 654.0M670.0 661.9L677.1 663.0M822.3 557.3L828.4 556.3L835.5 553.2L842.6 551.2L848.8 552.2M824.3 560.3L831.4 557.3L837.6 556.3M843.2 546.1L846.7 547.1L850.3 551.2M818.2 557.3L822.3 563.4L821.3 567.5M729.4 590.4L727.8 593.5L727.2 594.3L725.9 598.2L724.3 601.7L723.6 605.0L722.1 606.4L720.2 610.6L718.0 614.4L717.1 617.4L716.6 621.2L717.1 624.9L718.3 626.0L716.4 629.4L715.2 632.0L713.7 636.0M729.5 590.4L732.9 589.8L733.8 587.2L736.0 584.1L739.4 582.7M699.7 645.5L703.1 645.0L707.6 646.4L710.7 646.3L712.0 644.8L714.5 646.3L715.8 648.4L718.3 649.9L721.5 649.9L723.4 649.5" fill="none" stroke="#000" stroke-width="3.4" stroke-linejoin="round" stroke-linecap="round"/>
<path clip-path="url(#c4)" d="M805.3 572.1L808.5 570.9L811.7 570.5L814.9 569.8L818.0 571.3L818.8 575.3L816.8 580.1L815.7 584.0L813.7 587.2L812.5 588.4L808.5 588.0L806.9 585.2L803.3 585.0L806.1 582.0L804.1 578.5L802.9 577.3L805.7 576.1ZM808.4 593.2L812.2 593.8L813.7 598.3L814.3 600.5L815.5 603.3L811.7 602.0L809.5 605.1L805.8 606.4L804.4 603.8L806.6 600.7L803.1 598.9L806.9 598.2L809.1 596.2ZM712.3 643.6L716.3 644.4L720.4 641.8L723.7 640.8L727.7 641.8L728.7 645.8L730.7 652.2L727.7 649.6L725.7 650.9L723.7 648.8L721.2 651.2L719.6 648.3L715.5 646.8ZM761.5 532.0L764.6 530.8L766.6 533.0L764.8 536.1L762.0 535.5Z" fill="#000" stroke="#000" stroke-width="1" stroke-linejoin="round"/>
<rect x="616.50" y="486.50" width="234.00" height="213.00" fill="none" stroke="#000" stroke-width="1"/>
<text class="b" x="662.0" y="467.2" font-size="13.4" text-anchor="middle">100<tspan dy="-6.4" font-size="10.5">°</tspan><tspan dy="6.4"> W</tspan></text>
<text class="b" x="727.2" y="467.2" font-size="13.4" text-anchor="middle">90<tspan dy="-6.4" font-size="10.5">°</tspan><tspan dy="6.4"> W</tspan></text>
<text class="b" x="790.5" y="467.2" font-size="13.4" text-anchor="middle">80<tspan dy="-6.4" font-size="10.5">°</tspan><tspan dy="6.4"> W</tspan></text>
<text class="b" x="853.7" y="467.2" font-size="13.4" text-anchor="middle">70<tspan dy="-6.4" font-size="10.5">°</tspan><tspan dy="6.4"> W</tspan></text>
<text class="b" x="607.2" y="705.7" font-size="13.4" text-anchor="end">22<tspan dy="-7.9" font-size="10.5">°</tspan><tspan dy="7.9"> N</tspan></text>
<text class="b" x="607.2" y="692.1" font-size="13.4" text-anchor="end">24<tspan dy="-7.9" font-size="10.5">°</tspan><tspan dy="7.9"> N</tspan></text>
<text class="b" x="607.2" y="678.3" font-size="13.4" text-anchor="end">26<tspan dy="-7.9" font-size="10.5">°</tspan><tspan dy="7.9"> N</tspan></text>
<text class="b" x="607.2" y="664.3" font-size="13.4" text-anchor="end">28<tspan dy="-7.9" font-size="10.5">°</tspan><tspan dy="7.9"> N</tspan></text>
<text class="b" x="607.2" y="650.0" font-size="13.4" text-anchor="end">30<tspan dy="-7.9" font-size="10.5">°</tspan><tspan dy="7.9"> N</tspan></text>
<text class="b" x="607.2" y="635.4" font-size="13.4" text-anchor="end">32<tspan dy="-7.9" font-size="10.5">°</tspan><tspan dy="7.9"> N</tspan></text>
<text class="b" x="607.2" y="620.5" font-size="13.4" text-anchor="end">34<tspan dy="-7.9" font-size="10.5">°</tspan><tspan dy="7.9"> N</tspan></text>
<text class="b" x="607.2" y="605.3" font-size="13.4" text-anchor="end">36<tspan dy="-7.9" font-size="10.5">°</tspan><tspan dy="7.9"> N</tspan></text>
<text class="b" x="607.2" y="589.6" font-size="13.4" text-anchor="end">38<tspan dy="-7.9" font-size="10.5">°</tspan><tspan dy="7.9"> N</tspan></text>
<text class="b" x="607.2" y="573.5" font-size="13.4" text-anchor="end">40<tspan dy="-7.9" font-size="10.5">°</tspan><tspan dy="7.9"> N</tspan></text>
<text class="b" x="607.2" y="556.9" font-size="13.4" text-anchor="end">42<tspan dy="-7.9" font-size="10.5">°</tspan><tspan dy="7.9"> N</tspan></text>
<text class="b" x="607.2" y="539.9" font-size="13.4" text-anchor="end">44<tspan dy="-7.9" font-size="10.5">°</tspan><tspan dy="7.9"> N</tspan></text>
<text class="b" x="607.2" y="522.2" font-size="13.4" text-anchor="end">46<tspan dy="-7.9" font-size="10.5">°</tspan><tspan dy="7.9"> N</tspan></text>
<text class="b" x="607.2" y="503.8" font-size="13.4" text-anchor="end">48<tspan dy="-7.9" font-size="10.5">°</tspan><tspan dy="7.9"> N</tspan></text>
<rect x="862.1" y="483.1" width="23.9" height="219.6" fill="url(#jet)" stroke="#222" stroke-width="0.6"/>
<path d="M886.0 528.0h-2.5" stroke="#222" stroke-width="0.7"/>
<text class="b" x="894.7" y="535.8" font-size="21.3">2</text>
<path d="M886.0 592.0h-2.5" stroke="#222" stroke-width="0.7"/>
<text class="b" x="894.7" y="599.8" font-size="21.3">0</text>
<path d="M886.0 656.0h-2.5" stroke="#222" stroke-width="0.7"/>
<text class="b" x="894.7" y="663.8" font-size="21.3">-2</text>
<text class="b" x="549.2" y="731.0" font-size="23.1" textLength="358.5" lengthAdjust="spacing">SAT-RAP 700 hPa MR (g/kg)</text>
</g>
<g id="p6">
<filter id="bl5" filterUnits="userSpaceOnUse" x="987" y="435" width="260" height="280"><feGaussianBlur stdDeviation="1.0"/></filter>
<clipPath id="sw5"><path d="M1034.8 484.4L1122.6 484.4L1127.2 487.0L1128.4 501.5L1137.6 505.0L1143.4 502.6L1149.1 502.6L1153.7 505.0L1159.5 507.3L1173.3 506.1L1175.6 521.1L1177.9 555.6L1179.1 570.6L1179.0 560.0L1180.3 577.3L1176.3 586.7L1160.3 591.3L1149.7 592.7L1144.3 594.9L1144.3 604.0L1137.7 610.7L1137.7 618.7L1120.3 619.3L1120.3 622.7L1107.0 625.3L1084.3 625.3L1083.0 629.3L1085.7 634.7L1120.3 634.7L1128.3 640.0L1120.3 645.3L1112.3 645.3L1101.7 646.7L1085.7 649.3L1080.3 652.0L1072.3 653.3L1060.3 658.7L1044.3 661.3L1035.0 660.0L1034.3 640.0L1034.3 560.0L1034.8 555.6Z"/></clipPath>
<path d="M1034.8 484.4L1122.6 484.4L1127.2 487.0L1128.4 501.5L1137.6 505.0L1143.4 502.6L1149.1 502.6L1153.7 505.0L1159.5 507.3L1173.3 506.1L1175.6 521.1L1177.9 555.6L1179.1 570.6L1179.0 560.0L1180.3 577.3L1176.3 586.7L1160.3 591.3L1149.7 592.7L1144.3 594.9L1144.3 604.0L1137.7 610.7L1137.7 618.7L1120.3 619.3L1120.3 622.7L1107.0 625.3L1084.3 625.3L1083.0 629.3L1085.7 634.7L1120.3 634.7L1128.3 640.0L1120.3 645.3L1112.3 645.3L1101.7 646.7L1085.7 649.3L1080.3 652.0L1072.3 653.3L1060.3 658.7L1044.3 661.3L1035.0 660.0L1034.3 640.0L1034.3 560.0L1034.8 555.6Z" fill="#80ff80" stroke="#80ff80" stroke-width="1.5" stroke-linejoin="round"/>
<g clip-path="url(#sw5)">
<g filter="url(#bl5)">
<path d="M1034.8 484.4L1122.6 484.4L1127.2 487.0L1128.4 501.5L1137.6 505.0L1143.4 502.6L1149.1 502.6L1153.7 505.0L1159.5 507.3L1173.3 506.1L1175.6 521.1L1177.9 555.6L1179.1 570.6L1179.0 560.0L1180.3 577.3L1176.3 586.7L1160.3 591.3L1149.7 592.7L1144.3 594.9L1144.3 604.0L1137.7 610.7L1137.7 618.7L1120.3 619.3L1120.3 622.7L1107.0 625.3L1084.3 625.3L1083.0 629.3L1085.7 634.7L1120.3 634.7L1128.3 640.0L1120.3 645.3L1112.3 645.3L1101.7 646.7L1085.7 649.3L1080.3 652.0L1072.3 653.3L1060.3 658.7L1044.3 661.3L1035.0 660.0L1034.3 640.0L1034.3 560.0L1034.8 555.6Z" fill="#80ff80"/>
<path d="M1119.2 498.0L1128.4 501.5L1137.6 505.0L1153.7 505.0L1159.5 513.0L1159.5 544.1L1142.2 544.1L1137.6 532.6L1128.4 525.7L1126.1 513.0Z" fill="#1affe5"/>
<path d="M1144.5 513.0L1156.0 514.2L1157.2 530.3L1149.1 532.6L1144.5 523.4Z" fill="#0094ff"/>
<path d="M1160.6 513.0L1175.6 513.0L1177.9 549.9L1160.6 549.9Z" fill="#4dffb3"/>
<path d="M1034.8 523.4L1055.8 523.4L1055.8 556.8L1034.8 556.8Z" fill="#2effd1"/>
<path d="M1066.2 544.1L1075.4 545.3L1098.4 560.3L1096.1 563.7L1084.6 557.9L1068.5 548.7Z" fill="#faff05"/>
<path d="M1077.7 548.7L1091.5 555.6L1093.8 560.3L1086.9 557.9L1078.8 552.2Z" fill="#ff3800"/>
<path d="M1044.3 546.4L1054.6 547.0L1054.6 549.9L1045.4 549.9Z" fill="#ffe500"/>
<path d="M1034.8 558.5L1050.0 559.1L1047.7 570.6L1034.8 570.6Z" fill="#001aff"/>
<path d="M1038.5 563.7L1045.4 563.7L1045.4 570.6L1038.5 570.6Z" fill="#0000b3"/>
<path d="M1050.0 560.3L1059.3 560.3L1059.3 567.2L1051.2 567.2Z" fill="#ff9e00"/>
<path d="M1142.2 564.9L1176.8 566.0L1176.8 570.6L1142.2 570.6Z" fill="#e5ff1a"/>
<path d="M1035.0 559.3L1051.0 559.3L1051.0 568.0L1035.0 568.0Z" fill="#004dff"/>
<path d="M1039.0 569.3L1049.7 569.3L1049.7 586.7L1039.0 586.7Z" fill="#00f0ff"/>
<path d="M1051.7 562.7L1061.7 566.7L1069.0 584.0L1064.3 588.0L1055.7 580.0L1050.3 568.0Z" fill="#ffb300"/>
<path d="M1053.7 564.0L1060.3 568.0L1067.0 584.0L1064.3 586.7L1057.7 578.7L1052.3 568.0Z" fill="#e50000"/>
<path d="M1071.0 570.7L1091.0 570.7L1092.3 584.0L1071.0 585.3Z" fill="#ffc700"/>
<path d="M1073.7 573.3L1087.0 573.3L1088.3 581.3L1075.0 582.7Z" fill="#fa0000"/>
<path d="M1091.0 568.0L1109.7 568.0L1109.7 584.0L1091.0 584.0Z" fill="#4dffb3"/>
<path d="M1071.0 584.4L1115.0 584.4L1115.0 589.1L1071.0 589.1Z" fill="#0080ff"/>
<path d="M1116.3 562.7L1137.7 562.7L1147.0 584.0L1147.0 592.7L1117.7 593.3Z" fill="#bdff42"/>
<path d="M1144.3 572.0L1155.0 572.0L1155.0 581.3L1144.3 581.3Z" fill="#ff8000"/>
<path d="M1147.0 574.7L1153.7 574.7L1153.7 578.7L1147.0 578.7Z" fill="#fa0000"/>
<path d="M1161.7 560.0L1179.0 560.0L1179.7 574.7L1161.7 582.7Z" fill="#e5ff1a"/>
<path d="M1121.7 595.3L1137.7 595.3L1137.7 600.0L1121.7 600.0Z" fill="#faff05"/>
<path d="M1120.3 611.3L1137.7 611.3L1137.7 618.7L1120.3 618.7Z" fill="#faff05"/>
<path d="M1037.7 591.3L1062.3 591.3L1062.3 628.0L1037.7 628.0Z" fill="#38ffc7"/>
<path d="M1040.3 613.3L1062.3 613.3L1062.3 628.0L1040.3 628.0Z" fill="#b3ff4c"/>
<path d="M1064.3 594.7L1081.7 594.7L1081.7 613.3L1064.3 613.3Z" fill="#e5ff1a"/>
<path d="M1064.3 618.7L1080.3 617.3L1084.3 625.3L1083.0 632.0L1067.0 632.0Z" fill="#faff05"/>
<path d="M1034.3 634.7L1044.3 636.0L1053.7 645.3L1064.3 653.3L1060.3 658.7L1049.7 653.3L1035.0 650.7Z" fill="#001aff"/>
<path d="M1035.0 652.0L1044.3 652.0L1044.3 661.3L1035.0 660.7Z" fill="#fffa00"/>
<path d="M1064.3 646.7L1072.3 646.7L1072.3 653.3L1064.3 653.3Z" fill="#4dffb3"/>
</g>
</g>
<path d="M1096.3 591.5L1107.0 591.5L1107.0 598.0L1096.3 597.3Z" fill="#fff"/>
<path d="M1081.7 593.3L1093.7 592.0L1097.7 598.0L1107.0 598.9L1115.0 596.0L1116.6 600.0L1128.3 601.3L1137.7 604.0L1140.3 597.3L1144.3 596.0L1144.3 604.0L1137.7 611.3L1128.3 610.7L1120.3 614.0L1109.7 614.9L1099.0 613.6L1091.0 612.3L1083.0 609.6L1081.7 600.0Z" fill="#00009e" stroke="#00009e" stroke-width="1.5" stroke-linejoin="round"/>
<circle cx="1111.0" cy="593.3" r="3.0" fill="#e50000"/>
<circle cx="1163.0" cy="596.0" r="3.7" fill="#00009e"/>
<circle cx="1171.7" cy="604.0" r="3.7" fill="#00009e"/>
<circle cx="1179.7" cy="605.3" r="3.7" fill="#00009e"/>
<circle cx="1147.0" cy="610.7" r="3.7" fill="#00009e"/>
<circle cx="1155.0" cy="610.7" r="3.7" fill="#00009e"/>
<circle cx="1161.7" cy="609.3" r="3.7" fill="#00009e"/>
<circle cx="1168.3" cy="610.7" r="3.7" fill="#00009e"/>
<circle cx="1177.7" cy="614.7" r="3.7" fill="#00009e"/>
<circle cx="1172.3" cy="618.7" r="3.7" fill="#00009e"/>
<circle cx="1167.0" cy="622.7" r="3.7" fill="#00009e"/>
<circle cx="1160.3" cy="620.0" r="3.7" fill="#00009e"/>
<circle cx="1146.3" cy="622.0" r="3.7" fill="#00009e"/>
<circle cx="1160.3" cy="629.3" r="3.7" fill="#00009e"/>
<circle cx="1152.3" cy="633.3" r="3.7" fill="#00009e"/>
<circle cx="1144.3" cy="632.7" r="3.7" fill="#00009e"/>
<circle cx="1175.0" cy="620.0" r="3.7" fill="#00009e"/>
<circle cx="1165.7" cy="616.0" r="3.7" fill="#00009e"/>
<circle cx="1051.7" cy="595.3" r="4.0" fill="#001aff"/>
<circle cx="1044.3" cy="601.3" r="2.7" fill="#ff9e00"/>
<circle cx="1059.0" cy="637.3" r="4.0" fill="#009eff"/>
<circle cx="1065.7" cy="638.7" r="4.0" fill="#009eff"/>
<circle cx="1077.7" cy="633.3" r="5.3" fill="#05fffa"/>
<circle cx="1073.7" cy="638.7" r="4.0" fill="#05fffa"/>
<circle cx="1089.7" cy="641.3" r="3.5" fill="#ff8000"/>
<circle cx="1099.0" cy="643.3" r="3.5" fill="#ff8000"/>
<circle cx="1084.3" cy="645.3" r="4.6" fill="#b30000"/>
<circle cx="1080.3" cy="649.3" r="3.3" fill="#e50000"/>
<circle cx="1094.3" cy="638.7" r="4.0" fill="#fffa00"/>
<circle cx="1103.0" cy="638.7" r="3.7" fill="#fffa00"/>
<circle cx="1110.3" cy="636.0" r="3.7" fill="#c70000"/>
<circle cx="1117.7" cy="638.0" r="3.7" fill="#05fffa"/>
<circle cx="1125.0" cy="640.0" r="3.0" fill="#e50000"/>
<circle cx="1139.0" cy="638.0" r="2.4" fill="#fa0000"/>
<path d="M1142.8 482.1L1150.8 481.7L1162.9 492.3L1172.4 498.6L1173.1 507.8L1163.5 506.7L1153.7 498.6L1143.9 487.9Z" fill="#0094ff" stroke="#0094ff" stroke-width="1.5" stroke-linejoin="round"/>
<circle cx="1146.8" cy="484.8" r="3.5" fill="#009eff"/>
<circle cx="1151.4" cy="490.0" r="3.5" fill="#009eff"/>
<circle cx="1156.0" cy="494.6" r="3.5" fill="#0094ff"/>
<circle cx="1161.8" cy="496.9" r="4.6" fill="#0080ff"/>
<circle cx="1165.2" cy="501.5" r="4.6" fill="#0080ff"/>
<circle cx="1168.7" cy="493.4" r="4.0" fill="#00f0ff"/>
<circle cx="1130.7" cy="485.4" r="4.0" fill="#05fffa"/>
<circle cx="1143.4" cy="503.8" r="3.0" fill="#00b3ff"/>
<circle cx="1047.5" cy="564.3" r="1.6" fill="#0000d1"/>
<circle cx="1062.9" cy="562.7" r="2.0" fill="#0000d1"/>
<circle cx="1038.9" cy="572.4" r="2.0" fill="#001aff"/>
<circle cx="1040.5" cy="572.1" r="2.0" fill="#001aff"/>
<circle cx="1057.0" cy="576.7" r="2.8" fill="#0000d1"/>
<circle cx="1039.1" cy="566.4" r="2.0" fill="#ffe500"/>
<circle cx="1046.6" cy="564.1" r="2.4" fill="#001aff"/>
<circle cx="1054.9" cy="579.6" r="2.0" fill="#001aff"/>
<circle cx="1049.1" cy="575.7" r="1.6" fill="#001aff"/>
<circle cx="1056.6" cy="574.3" r="2.8" fill="#ffe500"/>
<circle cx="1061.5" cy="573.3" r="2.4" fill="#b30000"/>
<circle cx="1046.9" cy="582.8" r="1.6" fill="#00b3ff"/>
<circle cx="1055.3" cy="575.1" r="2.8" fill="#ff4c00"/>
<circle cx="1046.5" cy="588.1" r="2.8" fill="#001aff"/>
<circle cx="1074.1" cy="575.1" r="2.8" fill="#b30000"/>
<circle cx="1070.7" cy="581.9" r="2.4" fill="#ffe500"/>
<circle cx="1078.7" cy="575.2" r="2.8" fill="#b30000"/>
<circle cx="1071.5" cy="570.0" r="2.8" fill="#ff9e00"/>
<circle cx="1088.2" cy="569.3" r="2.8" fill="#ff9e00"/>
<circle cx="1077.3" cy="576.0" r="1.6" fill="#ff4c00"/>
<circle cx="1094.7" cy="575.3" r="2.8" fill="#001aff"/>
<circle cx="1071.3" cy="583.9" r="2.0" fill="#004dff"/>
<circle cx="1080.3" cy="586.9" r="1.6" fill="#b30000"/>
<circle cx="1074.1" cy="576.3" r="2.0" fill="#ff9e00"/>
<circle cx="1057.9" cy="623.1" r="2.8" fill="#ff9e00"/>
<circle cx="1061.9" cy="616.4" r="2.0" fill="#e50000"/>
<circle cx="1041.4" cy="597.7" r="2.0" fill="#00b3ff"/>
<circle cx="1037.9" cy="621.9" r="2.4" fill="#004dff"/>
<circle cx="1044.6" cy="596.7" r="2.4" fill="#ffe500"/>
<circle cx="1052.7" cy="603.1" r="1.6" fill="#004dff"/>
<circle cx="1048.9" cy="623.3" r="2.8" fill="#ffe500"/>
<circle cx="1047.5" cy="605.7" r="2.8" fill="#b30000"/>
<circle cx="1039.3" cy="593.9" r="2.8" fill="#00b3ff"/>
<circle cx="1041.7" cy="603.9" r="1.6" fill="#0000d1"/>
<circle cx="1037.7" cy="596.9" r="2.4" fill="#001aff"/>
<circle cx="1052.9" cy="593.9" r="2.8" fill="#00b3ff"/>
<circle cx="1066.9" cy="600.0" r="2.4" fill="#ff4c00"/>
<circle cx="1072.6" cy="597.1" r="2.8" fill="#b30000"/>
<circle cx="1072.6" cy="601.3" r="1.6" fill="#004dff"/>
<circle cx="1077.3" cy="610.4" r="2.0" fill="#b30000"/>
<circle cx="1073.3" cy="599.1" r="2.4" fill="#ffe500"/>
<circle cx="1066.9" cy="606.3" r="2.4" fill="#0000d1"/>
<circle cx="1081.3" cy="613.1" r="2.4" fill="#ff9e00"/>
<circle cx="1080.1" cy="602.3" r="2.4" fill="#00b3ff"/>
<circle cx="1099.0" cy="588.9" r="2.0" fill="#00b3ff"/>
<circle cx="1107.0" cy="589.9" r="2.0" fill="#00b3ff"/>
<circle cx="1093.8" cy="586.8" r="1.6" fill="#0000d1"/>
<circle cx="1105.8" cy="587.7" r="2.4" fill="#00b3ff"/>
<circle cx="1090.7" cy="591.5" r="2.4" fill="#ff4c00"/>
<circle cx="1074.6" cy="584.8" r="2.0" fill="#b30000"/>
<circle cx="1085.8" cy="587.9" r="2.8" fill="#0000d1"/>
<circle cx="1111.0" cy="586.8" r="1.6" fill="#001aff"/>
<circle cx="1142.1" cy="613.5" r="2.8" fill="#00b3ff"/>
<circle cx="1141.5" cy="605.1" r="1.6" fill="#ff4c00"/>
<circle cx="1139.3" cy="618.0" r="2.8" fill="#e50000"/>
<circle cx="1129.1" cy="617.3" r="2.0" fill="#004dff"/>
<circle cx="1144.2" cy="595.3" r="2.0" fill="#b30000"/>
<circle cx="1134.5" cy="608.9" r="2.4" fill="#b30000"/>
<circle cx="1123.0" cy="607.9" r="1.6" fill="#0000d1"/>
<circle cx="1139.3" cy="612.1" r="2.0" fill="#001aff"/>
<circle cx="1050.9" cy="650.3" r="1.6" fill="#00b3ff"/>
<circle cx="1043.9" cy="636.4" r="2.4" fill="#00b3ff"/>
<circle cx="1044.2" cy="639.3" r="1.6" fill="#004dff"/>
<circle cx="1068.9" cy="637.9" r="2.8" fill="#b30000"/>
<circle cx="1065.8" cy="650.4" r="2.0" fill="#004dff"/>
<circle cx="1054.2" cy="629.7" r="2.0" fill="#b30000"/>
<circle cx="1057.4" cy="648.0" r="2.0" fill="#004dff"/>
<circle cx="1039.7" cy="644.1" r="1.6" fill="#001aff"/>
<circle cx="1046.7" cy="641.7" r="2.8" fill="#ffe500"/>
<circle cx="1064.2" cy="631.9" r="1.6" fill="#ffe500"/>
<clipPath id="c5"><rect x="1036.50" y="484.50" width="237.00" height="217.00"/></clipPath>
<path clip-path="url(#c5)" d="M1037.5 485.5L1112.8 485.5L1112.8 481.6M1112.8 481.6L1115.0 482.6L1115.9 487.9L1121.0 489.1L1124.5 489.2L1126.7 489.2L1130.2 492.2L1133.4 493.2L1136.6 494.4L1140.1 493.0L1144.8 494.1L1148.3 495.1M1148.3 495.1L1143.6 497.8L1139.1 501.5L1135.3 504.5L1132.1 507.1M1056.2 485.5L1056.2 557.6M1037.5 522.8L1056.2 522.8M1056.2 514.3L1103.8 514.3M1056.2 540.5L1091.5 540.5L1094.7 542.4L1098.5 541.7L1101.6 542.9L1104.5 544.9M1037.5 557.6L1068.9 557.6M1068.9 557.6L1068.9 590.4M1068.9 566.0L1111.7 566.0M1037.5 590.4L1116.1 590.4M1062.9 590.4L1062.7 629.0M1062.9 594.3L1082.0 594.3L1082.0 609.5M1082.0 609.5L1083.9 610.7L1087.0 611.5L1090.9 612.7L1094.0 612.8L1097.2 614.6L1099.7 615.7L1102.3 615.0L1104.8 615.7L1108.6 615.0L1111.8 614.8L1114.4 615.7L1117.0 616.6M1037.5 630.6L1040.5 630.6L1039.9 629.0L1062.5 629.0M1040.5 630.6L1042.6 632.9L1046.4 635.9L1050.2 639.0L1052.1 643.1L1053.4 646.4L1054.2 647.1L1056.6 648.9L1060.4 651.1L1062.0 651.4L1063.9 648.9L1065.1 645.7L1067.4 644.7L1070.8 645.4L1073.1 645.5L1076.2 648.6L1078.8 653.3L1080.1 656.4L1085.1 662.0L1085.5 665.5L1087.7 669.5L1092.8 671.9L1096.9 673.7L1100.1 672.9M1100.1 672.9L1098.8 667.0L1098.5 663.4L1099.7 659.8L1102.3 656.9L1107.4 654.0L1111.8 651.5L1115.0 648.9L1117.5 647.1L1121.0 646.0M1121.0 646.0L1122.0 643.1L1122.0 639.4L1122.9 635.0L1121.3 631.2L1119.8 629.0L1119.8 617.3L1117.0 616.6M1117.0 616.6L1117.3 603.0L1116.1 594.3L1116.1 573.4M1116.3 573.4L1114.4 571.0L1113.1 567.2L1111.7 566.0L1108.8 561.1L1108.3 557.6L1107.9 555.1L1106.7 551.7L1105.1 547.4L1104.5 544.9L1103.6 541.4L1104.5 536.1M1104.5 536.1L1104.5 520.1L1102.0 517.4L1103.8 514.3L1103.6 511.0L1102.3 505.4L1102.0 499.8L1100.7 495.6L1100.1 490.3L1099.6 485.5M1104.5 536.1L1137.7 536.1M1108.8 561.1L1134.5 561.0L1136.5 562.8M1116.1 594.3L1144.5 594.3L1143.1 598.3L1147.4 598.3M1119.8 621.3L1138.0 621.4M1132.1 507.1L1130.9 507.8L1130.9 512.8L1127.7 514.7L1127.1 517.4L1128.6 519.2L1128.0 522.8L1127.7 525.1L1130.9 527.3L1133.4 529.1L1136.6 532.2L1137.5 536.1L1137.9 538.8L1138.5 542.7L1141.3 544.8M1141.3 544.8L1159.4 544.8M1141.3 544.8L1144.2 548.3L1143.6 551.3L1141.7 553.4L1138.8 554.7L1138.5 557.6L1138.5 559.3L1136.5 562.8M1136.5 562.8L1135.9 566.0L1136.9 568.5L1139.8 572.6L1141.0 574.6L1144.2 575.5L1144.3 577.3L1143.2 580.7L1146.1 583.2L1148.6 588.0L1150.9 590.4M1150.9 590.4L1149.3 593.6L1148.6 594.3L1147.4 598.3L1145.8 601.8L1145.0 605.1L1143.6 606.5L1141.7 610.7L1139.4 614.6L1138.5 617.6L1138.0 621.4L1138.5 625.2L1139.8 626.4L1137.9 629.7L1136.6 632.4L1135.1 636.4M1135.1 636.4L1147.2 636.4L1146.7 639.4L1148.0 642.4M1121.0 646.0L1124.5 645.5L1129.0 646.9L1132.1 646.8L1133.4 645.3L1135.9 646.8L1137.2 648.9L1139.8 650.4L1142.9 650.4L1144.8 650.0L1146.1 648.9L1149.3 651.5L1150.9 650.8L1149.9 648.2L1148.0 646.4L1149.3 644.6L1149.9 643.1L1148.0 642.4M1148.0 642.4L1149.9 641.6L1152.5 640.9L1155.6 641.3L1157.5 642.0L1158.2 638.7L1158.8 640.9L1159.8 642.0L1161.4 641.8M1155.6 641.3L1155.2 629.7L1156.9 606.1M1161.4 641.6L1160.7 636.4L1177.2 636.4M1177.2 636.4L1178.1 638.7L1195.0 639.6L1196.0 641.2L1196.3 638.3L1199.8 638.7M1177.2 636.4L1176.9 632.7L1176.6 627.1L1176.1 622.4L1173.4 606.3M1143.6 606.1L1189.3 606.1M1189.3 606.1L1188.0 608.4L1190.9 610.7L1192.5 613.8L1195.0 616.1L1196.6 618.0L1199.5 621.4L1200.1 624.5L1201.7 627.5L1203.3 628.8M1189.3 606.1L1193.7 604.5L1202.3 604.9L1202.3 605.7L1203.1 605.3L1204.0 607.5L1211.1 607.7L1218.2 614.9M1181.5 606.1L1183.3 603.0L1186.8 601.7L1189.3 600.1L1192.5 597.9L1195.6 597.5L1198.3 593.6M1148.6 594.3L1157.7 594.3L1157.7 592.9L1185.6 593.6L1198.3 593.6L1235.2 593.9M1151.0 590.4L1154.4 589.8L1155.3 587.2L1157.5 584.0L1160.9 582.6L1163.9 584.1L1167.1 583.2L1169.0 581.6L1172.5 580.2L1174.7 576.7L1178.2 575.9L1178.4 573.4L1180.4 573.4L1182.3 575.9L1185.2 577.1L1189.9 576.4L1192.5 579.0M1158.0 584.0L1158.8 579.9L1161.0 576.7L1161.2 571.4L1161.2 551.5M1178.4 573.4L1178.5 551.7M1165.7 551.2L1178.5 551.5L1187.1 551.4M1159.4 544.8L1160.7 550.4L1161.2 551.7L1163.3 552.3L1165.7 551.2M1165.7 551.2L1167.7 548.3L1169.3 544.8L1169.6 540.5L1168.7 538.3L1167.7 534.4L1167.7 531.7L1169.3 527.3L1170.2 523.7L1173.4 521.5L1173.7 524.6L1174.7 521.0L1177.2 519.2L1177.2 516.5L1178.8 515.8M1178.8 515.8L1182.3 517.1L1186.8 519.7L1187.4 522.4L1188.0 525.5L1187.7 529.1L1184.2 534.8L1187.1 534.4L1190.2 531.1L1192.5 535.3L1193.6 540.5L1193.1 544.0L1190.9 544.4L1189.6 546.4L1189.0 548.7L1187.1 551.4M1140.0 504.1L1145.4 507.6L1151.3 510.8L1156.7 513.3L1159.3 516.2L1160.9 519.5L1160.1 522.7M1140.0 504.1L1144.9 505.7L1149.2 504.3L1152.4 502.7L1154.0 502.0L1156.7 503.8L1159.9 504.4L1163.1 508.2L1166.3 509.2L1169.5 507.1L1176.0 505.7L1179.4 505.7L1181.3 508.7L1184.0 510.3L1184.8 514.1L1181.3 511.9L1178.6 511.7L1174.9 511.9L1169.5 513.5L1165.2 513.0L1164.2 516.8L1162.6 520.0L1160.1 522.7M1160.7 521.9L1158.2 526.9L1162.3 521.0L1164.2 520.1L1161.4 527.7L1161.0 530.9L1160.1 533.9L1158.8 540.2L1159.4 544.8M1130.4 506.5L1133.1 505.7L1136.3 504.7L1140.0 504.1M1187.1 551.4L1190.6 553.4L1191.8 553.8L1196.3 553.4L1198.2 553.4L1201.4 551.3L1205.7 549.3L1210.5 546.8L1215.0 543.1L1216.0 541.4L1215.0 538.3L1218.5 537.3L1224.2 538.2L1229.3 537.9L1231.2 536.4L1233.1 535.7L1233.1 532.6L1232.2 530.6L1235.7 527.7L1238.8 524.4L1242.6 522.8L1263.0 522.7L1263.6 521.0L1265.6 520.1L1267.1 520.6L1267.4 519.2L1270.0 516.0L1270.9 514.2L1270.6 511.9L1272.2 510.1L1272.5 507.3M1210.5 546.8L1210.5 549.1L1238.5 549.1L1240.4 552.5L1242.6 554.6M1205.7 549.3L1205.7 568.3M1205.7 560.7L1204.9 562.7L1204.5 566.0L1203.6 568.5L1201.4 571.0L1199.1 572.0L1197.9 574.2L1196.9 575.1L1195.0 577.5L1192.5 579.0M1205.7 568.3L1235.7 568.3M1211.2 567.7L1211.4 572.0L1214.5 570.0L1218.1 570.5M1218.1 570.5L1214.0 574.1L1210.6 577.7L1208.6 581.8L1206.9 584.2L1203.3 586.6L1198.7 588.2L1194.9 586.2L1192.6 583.1L1191.6 579.4M1192.5 579.0L1192.5 581.1L1194.4 584.8L1196.5 586.1L1191.8 590.0L1189.0 592.4L1185.6 593.6M1223.5 571.6L1224.9 572.6L1226.5 574.2L1227.7 575.1L1227.7 576.7L1226.1 579.1L1228.0 579.9L1230.6 581.1L1232.4 582.1L1231.9 579.5L1231.2 576.7L1231.5 574.5L1231.2 572.2L1233.8 571.0L1233.9 569.7L1234.7 570.1L1233.1 573.4L1232.5 575.9L1233.1 578.3L1234.4 580.7L1235.3 582.8L1234.7 586.4L1234.4 589.2L1235.0 589.4L1236.9 586.4L1238.5 583.2L1240.4 578.7L1240.4 575.9L1238.2 573.4L1237.2 570.5L1237.2 568.9L1238.2 567.6M1240.4 578.6L1235.7 578.6L1235.7 568.3L1236.9 567.4L1238.2 567.6M1235.3 582.8L1238.5 582.2M1228.0 579.9L1232.8 583.2L1232.5 585.6L1232.5 588.0L1231.9 588.8L1232.5 590.4L1232.5 590.8L1234.4 590.9L1235.2 593.9L1237.6 599.9L1237.6 604.3L1234.4 605.6L1230.9 609.2L1227.4 608.8L1224.2 611.5L1222.0 615.0L1218.2 614.9L1216.0 616.1L1214.1 619.9L1211.5 621.4L1209.6 623.7L1206.4 625.2L1204.5 627.1L1203.3 628.8L1201.7 632.7L1200.1 635.7L1199.8 638.7L1200.1 641.6L1200.7 644.6L1202.6 649.7L1205.5 655.1L1205.2 658.4L1207.1 662.7L1208.7 667.0L1208.0 674.3L1206.8 677.6L1203.3 678.6L1201.4 676.2L1200.4 674.1L1197.6 671.6L1196.0 669.1L1194.4 666.3L1192.8 663.4L1191.5 661.2L1193.1 659.1L1191.0 658.6L1191.2 655.5L1192.2 651.9L1189.6 650.0L1187.4 647.5L1185.8 644.9L1182.9 643.2L1181.4 644.2L1177.2 646.8L1174.9 646.2L1174.7 644.6L1172.8 642.9L1169.0 641.0L1163.3 641.4L1161.4 641.8M1242.6 554.6L1240.1 557.6L1239.5 560.2L1240.4 562.7L1242.2 564.3L1239.9 566.8L1238.2 567.6M1242.6 554.6L1247.7 557.6L1246.9 560.2L1245.5 561.8L1247.1 562.2L1246.8 566.0L1245.8 569.3L1244.6 571.4L1241.1 574.8L1239.8 572.6L1237.2 570.1M1246.9 561.0L1251.5 560.7L1257.3 558.9L1260.7 557.0L1257.9 556.4L1256.0 557.8L1251.5 558.3L1248.7 558.9L1246.9 561.0M1247.7 557.6L1247.7 558.9L1249.3 557.6M1249.3 557.6L1248.8 556.8L1250.4 555.9L1250.0 555.1L1250.3 548.7L1251.8 542.7L1251.9 536.1L1250.9 535.3L1251.2 530.0L1251.2 522.8M1249.3 557.6L1252.8 556.4L1254.1 555.3L1257.6 555.3L1260.7 554.9L1263.0 554.5L1263.6 552.1L1264.9 553.4L1265.4 553.4L1266.8 553.0L1268.4 551.7L1268.4 553.1L1272.5 552.0M1250.3 548.7L1261.1 549.0L1263.7 549.0L1264.1 550.0L1264.9 551.7L1265.4 553.4M1261.1 549.0L1261.1 554.9M1251.8 542.7L1264.2 543.1L1267.3 541.6L1268.7 543.5L1266.1 546.1L1268.1 547.4L1268.4 549.6L1269.3 551.1L1272.5 551.0M1256.9 542.9L1257.3 537.9L1258.5 533.5L1259.5 530.9L1262.3 527.3L1263.0 522.7M1267.3 541.6L1268.1 539.8L1266.3 537.0L1266.1 531.7L1266.0 526.4L1265.6 520.1M1268.1 539.8L1269.0 537.5L1270.9 534.8L1272.5 533.9M1104.3 644.6L1104.5 651.3M1094.3 671.3L1101.4 672.3M1156.2 637.1L1174.0 638.4M1187.9 551.8L1197.6 558.2" fill="none" stroke="#000" stroke-width="2.6" stroke-linejoin="round" stroke-linecap="round"/>
<path clip-path="url(#c5)" d="M1218.6 612.9L1213.0 619.6L1205.9 624.7L1200.9 630.9L1198.5 637.9M1191.5 652.0L1190.7 658.7L1193.6 664.3L1196.6 671.0L1201.8 676.3L1205.0 679.0L1208.9 685.4M1115.7 645.6L1108.6 650.5L1103.0 654.6M1091.2 662.6L1098.4 663.6M1244.2 556.9L1250.3 555.9L1257.5 552.8L1264.6 550.8L1270.8 551.8M1246.2 560.0L1253.4 556.9L1259.5 555.9M1265.1 545.6L1268.7 546.7L1272.3 550.8M1240.1 556.9L1244.2 563.1L1243.1 567.2M1150.9 590.4L1149.3 593.6L1148.6 594.3L1147.4 598.3L1145.8 601.8L1145.0 605.1L1143.6 606.5L1141.7 610.7L1139.4 614.6L1138.5 617.6L1138.0 621.4L1138.5 625.2L1139.8 626.4L1137.9 629.7L1136.6 632.4L1135.1 636.4M1151.0 590.4L1154.4 589.8L1155.3 587.2L1157.5 584.0L1160.9 582.6M1121.0 646.0L1124.5 645.5L1129.0 646.9L1132.1 646.8L1133.4 645.3L1135.9 646.8L1137.2 648.9L1139.8 650.4L1142.9 650.4L1144.8 650.0" fill="none" stroke="#000" stroke-width="3.4" stroke-linejoin="round" stroke-linecap="round"/>
<path clip-path="url(#c5)" d="M1227.1 571.9L1230.3 570.7L1233.5 570.3L1236.7 569.5L1239.9 571.1L1240.7 575.1L1238.7 579.9L1237.5 584.0L1235.5 587.2L1234.3 588.4L1230.3 588.0L1228.7 585.2L1225.1 584.9L1227.9 581.9L1225.9 578.3L1224.7 577.1L1227.5 575.9ZM1230.2 593.2L1234.0 593.8L1235.5 598.4L1236.1 600.6L1237.3 603.4L1233.5 602.1L1231.3 605.2L1227.6 606.5L1226.2 604.0L1228.4 600.8L1224.9 599.0L1228.7 598.2L1230.9 596.2ZM1133.7 644.0L1137.8 644.9L1141.9 642.2L1145.1 641.2L1149.2 642.2L1150.2 646.3L1152.2 652.8L1149.2 650.1L1147.2 651.4L1145.1 649.3L1142.7 651.8L1141.0 648.8L1137.0 647.3ZM1183.2 531.5L1186.2 530.2L1188.3 532.5L1186.4 535.6L1183.7 535.0Z" fill="#000" stroke="#000" stroke-width="1" stroke-linejoin="round"/>
<rect x="1037.50" y="485.50" width="235.00" height="215.00" fill="none" stroke="#000" stroke-width="1"/>
<text class="b" x="1085.0" y="465.3" font-size="13.4" text-anchor="middle">100<tspan dy="-6.4" font-size="10.5">°</tspan><tspan dy="6.4"> W</tspan></text>
<text class="b" x="1148.9" y="465.3" font-size="13.4" text-anchor="middle">90<tspan dy="-6.4" font-size="10.5">°</tspan><tspan dy="6.4"> W</tspan></text>
<text class="b" x="1212.4" y="465.3" font-size="13.4" text-anchor="middle">80<tspan dy="-6.4" font-size="10.5">°</tspan><tspan dy="6.4"> W</tspan></text>
<text class="b" x="1275.9" y="465.3" font-size="13.4" text-anchor="middle">70<tspan dy="-6.4" font-size="10.5">°</tspan><tspan dy="6.4"> W</tspan></text>
<text class="b" x="1028.2" y="706.7" font-size="13.4" text-anchor="end">22<tspan dy="-7.9" font-size="10.5">°</tspan><tspan dy="7.9"> N</tspan></text>
<text class="b" x="1028.2" y="693.0" font-size="13.4" text-anchor="end">24<tspan dy="-7.9" font-size="10.5">°</tspan><tspan dy="7.9"> N</tspan></text>
<text class="b" x="1028.2" y="679.1" font-size="13.4" text-anchor="end">26<tspan dy="-7.9" font-size="10.5">°</tspan><tspan dy="7.9"> N</tspan></text>
<text class="b" x="1028.2" y="664.9" font-size="13.4" text-anchor="end">28<tspan dy="-7.9" font-size="10.5">°</tspan><tspan dy="7.9"> N</tspan></text>
<text class="b" x="1028.2" y="650.5" font-size="13.4" text-anchor="end">30<tspan dy="-7.9" font-size="10.5">°</tspan><tspan dy="7.9"> N</tspan></text>
<text class="b" x="1028.2" y="635.8" font-size="13.4" text-anchor="end">32<tspan dy="-7.9" font-size="10.5">°</tspan><tspan dy="7.9"> N</tspan></text>
<text class="b" x="1028.2" y="620.7" font-size="13.4" text-anchor="end">34<tspan dy="-7.9" font-size="10.5">°</tspan><tspan dy="7.9"> N</tspan></text>
<text class="b" x="1028.2" y="605.3" font-size="13.4" text-anchor="end">36<tspan dy="-7.9" font-size="10.5">°</tspan><tspan dy="7.9"> N</tspan></text>
<text class="b" x="1028.2" y="589.5" font-size="13.4" text-anchor="end">38<tspan dy="-7.9" font-size="10.5">°</tspan><tspan dy="7.9"> N</tspan></text>
<text class="b" x="1028.2" y="573.3" font-size="13.4" text-anchor="end">40<tspan dy="-7.9" font-size="10.5">°</tspan><tspan dy="7.9"> N</tspan></text>
<text class="b" x="1028.2" y="556.5" font-size="13.4" text-anchor="end">42<tspan dy="-7.9" font-size="10.5">°</tspan><tspan dy="7.9"> N</tspan></text>
<text class="b" x="1028.2" y="539.3" font-size="13.4" text-anchor="end">44<tspan dy="-7.9" font-size="10.5">°</tspan><tspan dy="7.9"> N</tspan></text>
<text class="b" x="1028.2" y="521.4" font-size="13.4" text-anchor="end">46<tspan dy="-7.9" font-size="10.5">°</tspan><tspan dy="7.9"> N</tspan></text>
<text class="b" x="1028.2" y="502.9" font-size="13.4" text-anchor="end">48<tspan dy="-7.9" font-size="10.5">°</tspan><tspan dy="7.9"> N</tspan></text>
<rect x="1285.0" y="483.1" width="24.0" height="219.4" fill="url(#jet)" stroke="#222" stroke-width="0.6"/>
<path d="M1309.0 515.0h-2.5" stroke="#222" stroke-width="0.7"/>
<text class="b" x="1317.7" y="522.8" font-size="21.3" letter-spacing="-0.7">0.5</text>
<path d="M1309.0 592.0h-2.5" stroke="#222" stroke-width="0.7"/>
<text class="b" x="1317.7" y="599.8" font-size="21.3">0</text>
<path d="M1309.0 669.0h-2.5" stroke="#222" stroke-width="0.7"/>
<text class="b" x="1317.7" y="676.8" font-size="21.3" letter-spacing="-0.7">-0.5</text>
<text class="b" x="971.2" y="731.0" font-size="23.1" textLength="358.5" lengthAdjust="spacing">SAT-RAP 500 hPa MR (g/kg)</text>
</g>
</svg></body></html>
